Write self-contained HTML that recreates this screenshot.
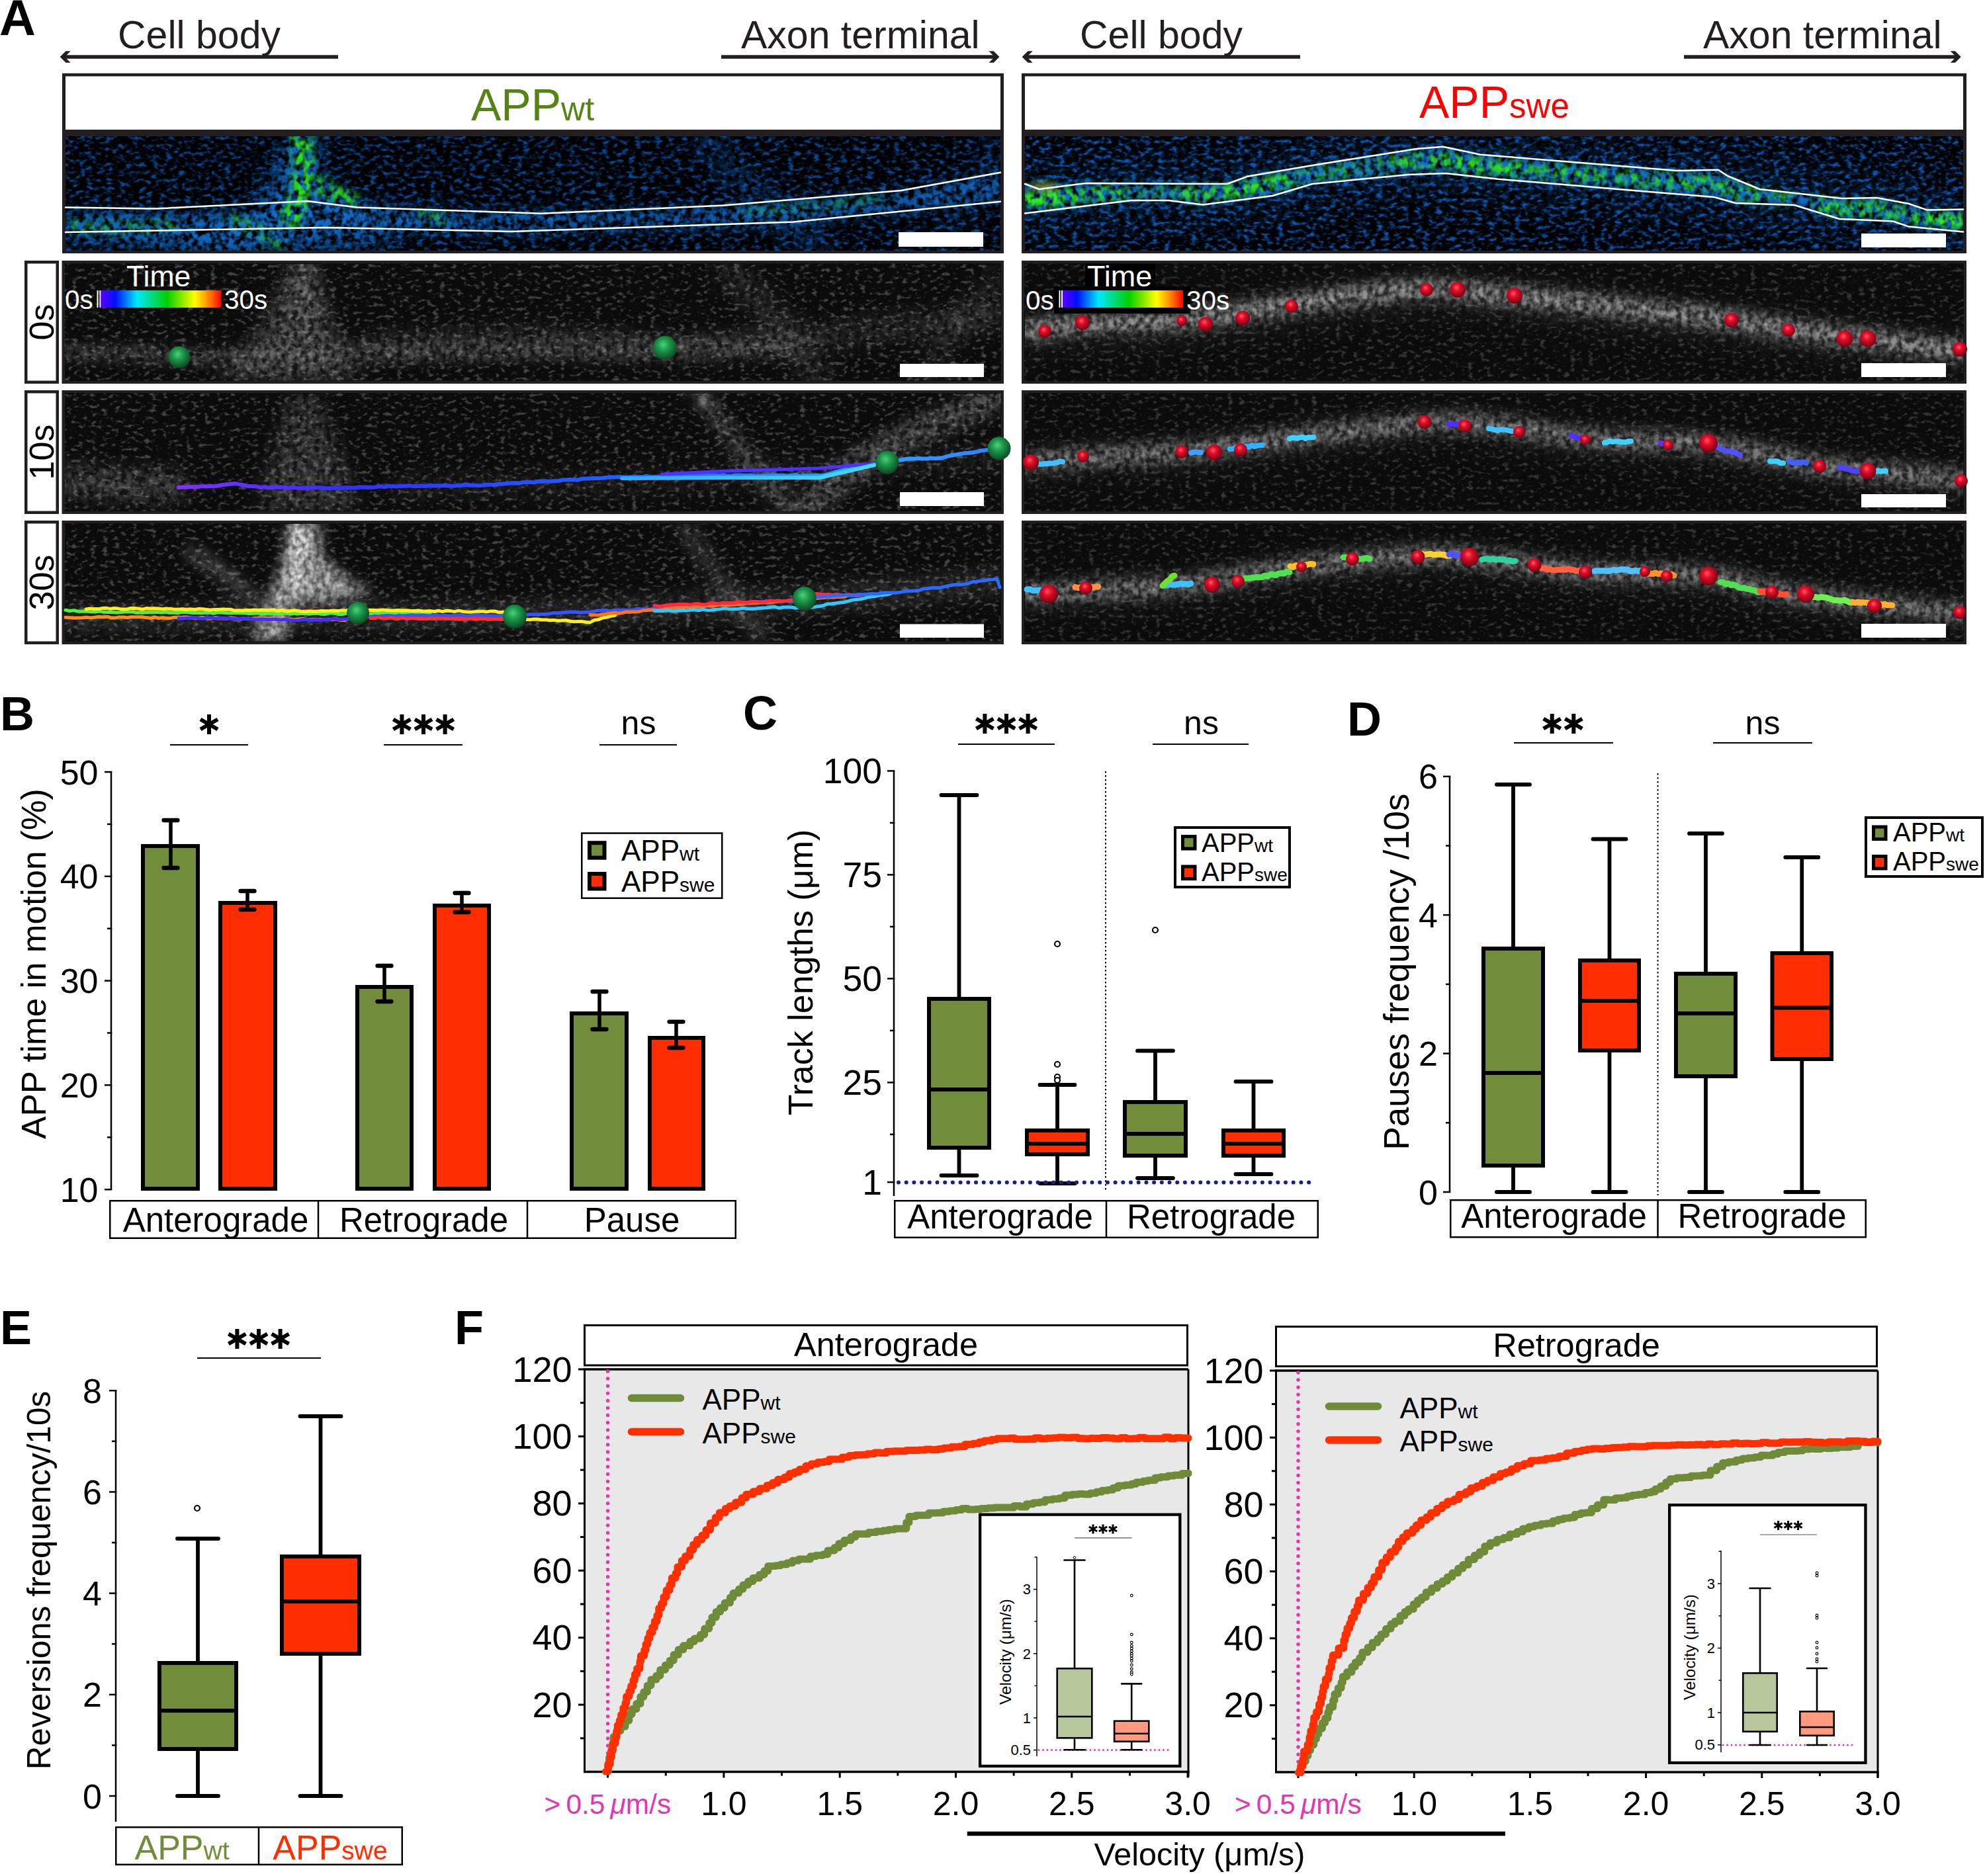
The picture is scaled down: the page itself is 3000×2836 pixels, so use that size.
<!DOCTYPE html>
<html><head><meta charset="utf-8"><title>Figure</title>
<style>html,body{margin:0;padding:0;background:#fff;} svg{display:block;} text{font-family:"Liberation Sans",sans-serif;}</style>
</head><body>
<svg width="3000" height="2836" viewBox="0 0 3000 2836" font-family="Liberation Sans, sans-serif">
<defs>
<filter id="gnoise" x="0" y="0" width="1" height="1" filterUnits="objectBoundingBox" color-interpolation-filters="sRGB">
  <feTurbulence type="fractalNoise" baseFrequency="0.11 0.17" numOctaves="2" seed="11"/>
  <feColorMatrix type="matrix" values="0 0 0 0 1  0 0 0 0 1  0 0 0 0 1  4.6 0 0 0 -2.5"/>
</filter>
<filter id="bnoise" x="0" y="0" width="1" height="1" filterUnits="objectBoundingBox" color-interpolation-filters="sRGB">
  <feTurbulence type="fractalNoise" baseFrequency="0.1 0.17" numOctaves="2" seed="5"/>
  <feColorMatrix type="matrix" values="0 0 0 0 0.06  0 0 0 0 0.33  0 0 0 0 0.68  3.4 0 0 0 -1.62"/>
</filter>
<filter id="blur6" filterUnits="userSpaceOnUse" x="-100" y="-100" width="3200" height="3100"><feGaussianBlur stdDeviation="6"/></filter>
<filter id="blur10" filterUnits="userSpaceOnUse" x="-100" y="-100" width="3200" height="3100"><feGaussianBlur stdDeviation="10"/></filter>
<filter id="blur16" filterUnits="userSpaceOnUse" x="-100" y="-100" width="3200" height="3100"><feGaussianBlur stdDeviation="16"/></filter>
<filter id="blur25" filterUnits="userSpaceOnUse" x="-100" y="-100" width="3200" height="3100"><feGaussianBlur stdDeviation="25"/></filter>
<radialGradient id="ballG" cx="0.45" cy="0.4" r="0.6" fx="0.42" fy="0.35">
  <stop offset="0" stop-color="#4fd07a"/><stop offset="0.4" stop-color="#1e9a4c"/><stop offset="1" stop-color="#0a4a22"/>
</radialGradient>
<radialGradient id="ballR" cx="0.45" cy="0.4" r="0.6" fx="0.42" fy="0.35">
  <stop offset="0" stop-color="#ff5a6a"/><stop offset="0.35" stop-color="#e3102a"/><stop offset="1" stop-color="#7a0010"/>
</radialGradient>
<linearGradient id="tbar" x1="0" x2="1" y1="0" y2="0">
  <stop offset="0" stop-color="#5a00ff"/><stop offset="0.12" stop-color="#0010ff"/><stop offset="0.3" stop-color="#00e8ff"/>
  <stop offset="0.55" stop-color="#00d000"/><stop offset="0.78" stop-color="#ffff00"/><stop offset="0.9" stop-color="#ff8000"/><stop offset="1" stop-color="#ff0000"/>
</linearGradient>
<clipPath id="clipL0"><rect x="99" y="206" width="1413" height="173"/></clipPath>
<clipPath id="clipR0"><rect x="1549" y="206" width="1418" height="173"/></clipPath>

<filter id="gn2" x="0" y="0" width="1" height="1" filterUnits="objectBoundingBox" color-interpolation-filters="sRGB">
  <feTurbulence type="fractalNoise" baseFrequency="0.12 0.1" numOctaves="2" seed="17"/>
  <feColorMatrix type="matrix" values="0 0 0 0 1  0 0 0 0 1  0 0 0 0 1  2.4 0 0 0 -0.7"/>
</filter>
<filter id="bn2" x="0" y="0" width="1" height="1" filterUnits="objectBoundingBox" color-interpolation-filters="sRGB">
  <feTurbulence type="fractalNoise" baseFrequency="0.11 0.09" numOctaves="2" seed="8"/>
  <feColorMatrix type="matrix" values="0 0 0 0 0.08  0 0 0 0 0.42  0 0 0 0 0.78  3.6 0 0 0 -1.3"/>
</filter>
<filter id="grn2" x="0" y="0" width="1" height="1" filterUnits="objectBoundingBox" color-interpolation-filters="sRGB">
  <feTurbulence type="fractalNoise" baseFrequency="0.1 0.08" numOctaves="2" seed="29"/>
  <feColorMatrix type="matrix" values="0 0 0 0 0.2  0 0 0 0 0.95  0 0 0 0 0.1  3.6 0 0 0 -1.35"/>
</filter>
<clipPath id="cbl"><rect x="99" y="206" width="1413" height="173"/></clipPath><mask id="mbl_1" maskUnits="userSpaceOnUse" x="99" y="206" width="1413" height="173"><rect x="99" y="206" width="1413" height="173" fill="#000"/><path d="M99.0,318.0 L300.0,322.0 L380.0,318.0 L420.0,300.0 L440.0,206.0 L475.0,206.0 L480.0,280.0 L545.0,305.0 L700.0,322.0 L1000.0,318.0 L1350.0,292.0 L1512.0,262.0 L1512.0,305.0 L1200.0,338.0 L800.0,352.0 L470.0,352.0 L360.0,379.0 L99.0,365.0 Z" fill="#fff" opacity="0.9" filter="url(#blur10)"/><path d="M240.0,379.0 L380.0,320.0 L440.0,206.0 L480.0,206.0 L490.0,290.0 L560.0,320.0 L600.0,379.0 Z" fill="#fff" opacity="0.8" filter="url(#blur16)"/><path d="M1063.0,206.0 C1077.5,221.7 1120.5,271.2 1150.0,300.0 C1179.5,328.8 1225.0,365.8 1240.0,379.0" fill="none" stroke="#fff" stroke-width="36" stroke-linecap="round" opacity="0.45" filter="url(#blur16)"/><path d="M1520.0,206.0 C1510.0,221.7 1476.7,271.2 1460.0,300.0 C1443.3,328.8 1426.7,365.8 1420.0,379.0" fill="none" stroke="#fff" stroke-width="30" stroke-linecap="round" opacity="0.3" filter="url(#blur16)"/></mask><mask id="mbl_2" maskUnits="userSpaceOnUse" x="99" y="206" width="1413" height="173"><rect x="99" y="206" width="1413" height="173" fill="#000"/><path d="M455.0,206.0 C455.5,213.3 458.5,234.3 458.0,250.0 C457.5,265.7 455.0,286.7 452.0,300.0 C449.0,313.3 442.0,325.0 440.0,330.0" fill="none" stroke="#fff" stroke-width="30" stroke-linecap="round" opacity="0.9" filter="url(#blur6)"/><path d="M480.0,280.0 C488.3,283.3 521.7,296.7 530.0,300.0" fill="none" stroke="#fff" stroke-width="22" stroke-linecap="round" opacity="0.8" filter="url(#blur6)"/><path d="M350.0,330.0 C356.7,333.3 378.3,343.3 390.0,350.0 C401.7,356.7 415.0,366.7 420.0,370.0" fill="none" stroke="#fff" stroke-width="20" stroke-linecap="round" opacity="0.5" filter="url(#blur6)"/><path d="M110.0,342.0 C121.7,342.5 155.0,345.3 180.0,345.0 C205.0,344.7 246.7,340.8 260.0,340.0" fill="none" stroke="#fff" stroke-width="16" stroke-linecap="round" opacity="0.5" filter="url(#blur6)"/><path d="M640.0,325.0 C645.0,325.8 665.0,329.2 670.0,330.0" fill="none" stroke="#fff" stroke-width="12" stroke-linecap="round" opacity="0.9" filter="url(#blur6)"/><path d="M1120.0,320.0 C1133.3,319.2 1165.0,318.3 1200.0,315.0 C1235.0,311.7 1308.3,302.5 1330.0,300.0" fill="none" stroke="#fff" stroke-width="10" stroke-linecap="round" opacity="0.4" filter="url(#blur6)"/></mask><clipPath id="cbr"><rect x="1549" y="206" width="1418" height="173"/></clipPath><mask id="mbr_1" maskUnits="userSpaceOnUse" x="1549" y="206" width="1418" height="173"><rect x="1549" y="206" width="1418" height="173" fill="#000"/><path d="M1549.0,278.0 L1570.5,286.0 L1641.0,277.0 L1854.6,278.0 L1885.0,266.8 L1983.6,249.9 L2140.8,224.9 L2181.0,221.7 L2237.5,233.7 L2361.0,243.8 L2534.5,258.0 L2597.0,256.7 L2611.0,266.0 L2659.5,286.0 L2784.0,300.0 L2836.7,299.0 L2885.0,308.0 L2913.0,317.6 L2967.0,316.4 L2967.0,350.6 L2885.0,342.6 L2861.0,334.5 L2780.0,331.0 L2712.0,310.0 L2623.0,307.0 L2591.0,298.0 L2421.7,284.0 L2264.5,270.8 L2185.0,262.0 L2128.7,264.0 L1983.6,278.0 L1923.0,296.0 L1818.0,309.5 L1766.0,303.0 L1709.6,303.0 L1549.0,322.4 Z" fill="#fff" opacity="1.0" filter="url(#blur6)"/><path d="M1549.0,300.2 C1555.7,300.3 1575.7,301.4 1589.0,300.6 C1602.3,299.8 1615.7,297.0 1629.0,295.6 C1642.3,294.3 1655.7,293.4 1669.0,292.5 C1682.3,291.6 1695.7,290.6 1709.0,290.2 C1722.3,289.8 1735.7,290.0 1749.0,290.3 C1762.3,290.5 1775.7,291.3 1789.0,291.8 C1802.3,292.2 1815.7,293.6 1829.0,293.0 C1842.3,292.3 1855.7,289.9 1869.0,287.8 C1882.3,285.7 1895.7,282.9 1909.0,280.2 C1922.3,277.6 1935.7,274.9 1949.0,272.1 C1962.3,269.2 1975.7,265.6 1989.0,263.3 C2002.3,260.9 2015.7,259.9 2029.0,258.1 C2042.3,256.4 2055.7,254.7 2069.0,253.0 C2082.3,251.3 2095.7,249.5 2109.0,247.9 C2122.3,246.4 2135.7,244.6 2149.0,243.8 C2162.3,242.9 2175.7,242.0 2189.0,242.9 C2202.3,243.9 2215.7,247.6 2229.0,249.4 C2242.3,251.2 2255.7,252.5 2269.0,253.7 C2282.3,255.0 2295.7,255.9 2309.0,257.0 C2322.3,258.1 2335.7,259.3 2349.0,260.4 C2362.3,261.5 2375.7,262.6 2389.0,263.7 C2402.3,264.8 2415.7,265.9 2429.0,267.0 C2442.3,268.1 2455.7,269.2 2469.0,270.3 C2482.3,271.4 2495.7,272.6 2509.0,273.6 C2522.3,274.5 2535.7,275.5 2549.0,276.1 C2562.3,276.7 2575.7,275.0 2589.0,277.4 C2602.3,279.7 2615.7,286.9 2629.0,290.3 C2642.3,293.7 2655.7,296.1 2669.0,297.8 C2682.3,299.5 2695.7,298.9 2709.0,300.7 C2722.3,302.6 2735.7,306.3 2749.0,308.7 C2762.3,311.2 2775.7,314.4 2789.0,315.6 C2802.3,316.9 2815.7,315.2 2829.0,316.1 C2842.3,317.0 2855.7,318.7 2869.0,321.1 C2882.3,323.5 2895.7,328.6 2909.0,330.6 C2922.3,332.5 2942.3,332.4 2949.0,332.8" fill="none" stroke="#fff" stroke-width="100" stroke-linecap="round" opacity="0.25" filter="url(#blur25)"/></mask><mask id="mbr_2" maskUnits="userSpaceOnUse" x="1549" y="206" width="1418" height="173"><rect x="1549" y="206" width="1418" height="173" fill="#000"/><path d="M1549.0,300.2 C1550.7,300.4 1555.7,301.0 1559.0,301.5 C1562.3,301.9 1565.7,302.6 1569.0,302.7 C1572.3,302.8 1575.7,302.2 1579.0,301.8 C1582.3,301.5 1585.7,301.0 1589.0,300.6 C1592.3,300.2 1595.7,299.8 1599.0,299.4 C1602.3,298.9 1607.3,298.3 1609.0,298.1" fill="none" stroke="#fff" stroke-width="22" stroke-linecap="round" opacity="1.0" filter="url(#blur6)"/><path d="M1610.0,298.0 C1611.7,297.8 1616.7,297.2 1620.0,296.8 C1623.3,296.3 1626.7,295.9 1630.0,295.5 C1633.3,295.1 1636.7,294.6 1640.0,294.3 C1643.3,294.0 1646.7,293.8 1650.0,293.6 C1653.3,293.4 1656.7,293.2 1660.0,293.0 C1663.3,292.8 1666.7,292.7 1670.0,292.5 C1673.3,292.3 1676.7,292.1 1680.0,291.9 C1683.3,291.7 1688.3,291.4 1690.0,291.3" fill="none" stroke="#fff" stroke-width="22" stroke-linecap="round" opacity="0.8" filter="url(#blur6)"/><path d="M1700.0,290.7 C1701.7,290.6 1706.7,290.3 1710.0,290.2 C1713.3,290.1 1716.7,290.2 1720.0,290.2 C1723.3,290.2 1726.7,290.2 1730.0,290.2 C1733.3,290.2 1736.7,290.2 1740.0,290.2 C1743.3,290.2 1746.7,290.2 1750.0,290.3 C1753.3,290.3 1756.7,290.2 1760.0,290.3 C1763.3,290.3 1768.3,290.5 1770.0,290.6" fill="none" stroke="#fff" stroke-width="22" stroke-linecap="round" opacity="0.35" filter="url(#blur6)"/><path d="M1790.0,291.8 C1791.7,292.0 1796.7,292.3 1800.0,292.5 C1803.3,292.7 1806.7,293.0 1810.0,293.1 C1813.3,293.3 1816.7,293.6 1820.0,293.5 C1823.3,293.5 1826.7,293.1 1830.0,292.9 C1833.3,292.7 1836.7,292.5 1840.0,292.3 C1843.3,292.1 1848.3,291.8 1850.0,291.7" fill="none" stroke="#fff" stroke-width="22" stroke-linecap="round" opacity="0.8" filter="url(#blur6)"/><path d="M1860.0,290.1 C1861.7,289.6 1866.7,288.4 1870.0,287.6 C1873.3,286.7 1876.7,285.8 1880.0,285.1 C1883.3,284.3 1886.7,283.7 1890.0,283.1 C1893.3,282.5 1896.7,282.1 1900.0,281.6 C1903.3,281.1 1906.7,280.6 1910.0,280.1 C1913.3,279.6 1916.7,279.2 1920.0,278.6 C1923.3,278.0 1926.7,277.2 1930.0,276.5 C1933.3,275.8 1938.3,274.6 1940.0,274.2" fill="none" stroke="#fff" stroke-width="22" stroke-linecap="round" opacity="0.9" filter="url(#blur6)"/><path d="M1950.0,271.8 C1951.7,271.4 1956.7,270.3 1960.0,269.5 C1963.3,268.7 1966.7,267.9 1970.0,267.1 C1973.3,266.4 1976.7,265.5 1980.0,264.8 C1983.3,264.1 1986.7,263.6 1990.0,263.1 C1993.3,262.6 1996.7,262.3 2000.0,261.9 C2003.3,261.4 2006.7,261.0 2010.0,260.6 C2013.3,260.2 2016.7,259.7 2020.0,259.3 C2023.3,258.9 2028.3,258.2 2030.0,258.0" fill="none" stroke="#fff" stroke-width="22" stroke-linecap="round" opacity="0.5" filter="url(#blur6)"/><path d="M2040.0,256.7 C2041.7,256.5 2046.7,255.9 2050.0,255.5 C2053.3,255.0 2056.7,254.6 2060.0,254.2 C2063.3,253.8 2066.7,253.3 2070.0,252.9 C2073.3,252.5 2076.7,252.1 2080.0,251.6 C2083.3,251.2 2088.3,250.6 2090.0,250.4" fill="none" stroke="#fff" stroke-width="22" stroke-linecap="round" opacity="0.35" filter="url(#blur6)"/><path d="M2100.0,249.1 C2101.7,248.9 2106.7,248.2 2110.0,247.8 C2113.3,247.4 2116.7,246.9 2120.0,246.5 C2123.3,246.1 2126.7,245.7 2130.0,245.3 C2133.3,244.9 2136.7,244.6 2140.0,244.3 C2143.3,244.0 2146.7,243.9 2150.0,243.7 C2153.3,243.5 2156.7,243.3 2160.0,243.1 C2163.3,242.9 2168.3,242.7 2170.0,242.6" fill="none" stroke="#fff" stroke-width="22" stroke-linecap="round" opacity="0.8" filter="url(#blur6)"/><path d="M2185.0,242.3 C2186.7,242.5 2191.7,243.4 2195.0,243.9 C2198.3,244.4 2201.7,245.0 2205.0,245.5 C2208.3,246.0 2211.7,246.6 2215.0,247.1 C2218.3,247.7 2221.7,248.2 2225.0,248.7 C2228.3,249.3 2231.7,249.9 2235.0,250.4 C2238.3,250.8 2241.7,251.1 2245.0,251.5 C2248.3,251.8 2251.7,252.1 2255.0,252.4 C2258.3,252.8 2261.7,253.1 2265.0,253.4 C2268.3,253.7 2271.7,253.9 2275.0,254.2 C2278.3,254.5 2281.7,254.8 2285.0,255.1 C2288.3,255.3 2293.3,255.7 2295.0,255.9" fill="none" stroke="#fff" stroke-width="22" stroke-linecap="round" opacity="0.9" filter="url(#blur6)"/><path d="M2310.0,257.1 C2311.7,257.3 2316.7,257.7 2320.0,258.0 C2323.3,258.2 2326.7,258.5 2330.0,258.8 C2333.3,259.1 2336.7,259.3 2340.0,259.6 C2343.3,259.9 2348.3,260.3 2350.0,260.4" fill="none" stroke="#fff" stroke-width="22" stroke-linecap="round" opacity="0.6" filter="url(#blur6)"/><path d="M2360.0,261.3 C2361.7,261.4 2366.7,261.8 2370.0,262.1 C2373.3,262.4 2376.7,262.7 2380.0,262.9 C2383.3,263.2 2386.7,263.5 2390.0,263.8 C2393.3,264.0 2396.7,264.3 2400.0,264.6 C2403.3,264.9 2406.7,265.1 2410.0,265.4 C2413.3,265.7 2418.3,266.1 2420.0,266.2" fill="none" stroke="#fff" stroke-width="22" stroke-linecap="round" opacity="0.7" filter="url(#blur6)"/><path d="M2450.0,268.7 C2451.7,268.8 2456.7,269.3 2460.0,269.5 C2463.3,269.8 2466.7,270.1 2470.0,270.4 C2473.3,270.6 2476.7,270.9 2480.0,271.2 C2483.3,271.5 2486.7,271.7 2490.0,272.0 C2493.3,272.3 2496.7,272.6 2500.0,272.8 C2503.3,273.1 2506.7,273.4 2510.0,273.6 C2513.3,273.9 2516.7,274.2 2520.0,274.5 C2523.3,274.7 2526.7,275.1 2530.0,275.3 C2533.3,275.5 2536.7,275.7 2540.0,275.8 C2543.3,276.0 2546.7,276.0 2550.0,276.1 C2553.3,276.2 2556.7,276.3 2560.0,276.5 C2563.3,276.6 2566.7,276.7 2570.0,276.8 C2573.3,276.9 2576.7,277.0 2580.0,277.1 C2583.3,277.2 2586.7,277.0 2590.0,277.4 C2593.3,277.8 2596.7,278.5 2600.0,279.6 C2603.3,280.8 2606.7,283.0 2610.0,284.3 C2613.3,285.7 2616.7,286.9 2620.0,287.9 C2623.3,289.0 2626.7,289.7 2630.0,290.5 C2633.3,291.3 2636.7,292.0 2640.0,292.8 C2643.3,293.5 2648.3,294.6 2650.0,295.0" fill="none" stroke="#fff" stroke-width="22" stroke-linecap="round" opacity="0.75" filter="url(#blur6)"/><path d="M2660.0,297.2 C2661.7,297.3 2666.7,297.6 2670.0,297.9 C2673.3,298.1 2676.7,298.4 2680.0,298.6 C2683.3,298.9 2686.7,299.1 2690.0,299.3 C2693.3,299.6 2698.3,300.0 2700.0,300.1" fill="none" stroke="#fff" stroke-width="22" stroke-linecap="round" opacity="0.5" filter="url(#blur6)"/><path d="M2750.0,309.0 C2751.7,309.3 2756.7,310.4 2760.0,311.1 C2763.3,311.8 2766.7,312.5 2770.0,313.2 C2773.3,313.9 2776.7,314.9 2780.0,315.3 C2783.3,315.7 2786.7,315.6 2790.0,315.7 C2793.3,315.7 2796.7,315.7 2800.0,315.8 C2803.3,315.8 2806.7,315.9 2810.0,315.9 C2813.3,315.9 2816.7,316.0 2820.0,316.0 C2823.3,316.1 2826.7,316.0 2830.0,316.1 C2833.3,316.2 2836.7,316.3 2840.0,316.6 C2843.3,316.9 2846.7,317.4 2850.0,317.8 C2853.3,318.1 2856.7,318.3 2860.0,318.9 C2863.3,319.5 2868.3,321.0 2870.0,321.4" fill="none" stroke="#fff" stroke-width="22" stroke-linecap="round" opacity="0.85" filter="url(#blur6)"/><path d="M2900.0,328.6 C2901.7,329.0 2906.7,330.3 2910.0,330.8 C2913.3,331.3 2916.7,331.5 2920.0,331.7 C2923.3,331.9 2926.7,332.0 2930.0,332.1 C2933.3,332.2 2936.7,332.4 2940.0,332.5 C2943.3,332.6 2946.7,332.7 2950.0,332.9 C2953.3,333.0 2958.3,333.2 2960.0,333.2" fill="none" stroke="#fff" stroke-width="22" stroke-linecap="round" opacity="1.0" filter="url(#blur6)"/></mask><clipPath id="cg1"><rect x="98" y="398.5" width="1414.5" height="177.0"/></clipPath><mask id="mg1_2" maskUnits="userSpaceOnUse" x="98" y="398.5" width="1414.5" height="177.0"><rect x="98" y="398.5" width="1414.5" height="177.0" fill="#000"/><path d="M440.0,399.0 L472.0,399.0 L490.0,470.0 L540.0,574.0 L330.0,574.0 L400.0,494.0 Z" fill="#fff" opacity="0.6" filter="url(#blur16)"/><path d="M457.0,399.0 C457.8,405.8 459.8,426.5 462.0,440.0 C464.2,453.5 468.7,473.3 470.0,480.0" fill="none" stroke="#fff" stroke-width="34" stroke-linecap="round" opacity="0.5" filter="url(#blur10)"/><path d="M99.0,532.0 C115.8,532.5 165.2,533.7 200.0,535.0 C234.8,536.3 258.0,540.0 308.0,540.0 C358.0,540.0 418.0,536.7 500.0,535.0 C582.0,533.3 716.7,531.3 800.0,530.0 C883.3,528.7 933.3,528.3 1000.0,527.0 C1066.7,525.7 1166.7,522.8 1200.0,522.0" fill="none" stroke="#fff" stroke-width="22" stroke-linecap="round" opacity="0.55" filter="url(#blur10)"/><path d="M561.0,523.0 C602.5,521.2 736.8,511.7 810.0,512.0 C883.2,512.3 943.3,523.7 1000.0,525.0 C1056.7,526.3 1091.7,525.0 1150.0,520.0 C1208.3,515.0 1289.7,502.0 1350.0,495.0 C1410.3,488.0 1485.0,480.8 1512.0,478.0" fill="none" stroke="#fff" stroke-width="30" stroke-linecap="round" opacity="0.4" filter="url(#blur16)"/><path d="M1100.0,410.0 C1111.7,421.7 1146.7,452.5 1170.0,480.0 C1193.3,507.5 1228.3,559.2 1240.0,575.0" fill="none" stroke="#fff" stroke-width="35" stroke-linecap="round" opacity="0.35" filter="url(#blur16)"/><path d="M1512.0,420.0 C1500.0,433.3 1458.7,474.2 1440.0,500.0 C1421.3,525.8 1406.7,562.5 1400.0,575.0" fill="none" stroke="#fff" stroke-width="35" stroke-linecap="round" opacity="0.25" filter="url(#blur16)"/></mask><mask id="mg1_3" maskUnits="userSpaceOnUse" x="98" y="398.5" width="1414.5" height="177.0"><rect x="98" y="398.5" width="1414.5" height="177.0" fill="#000"/><path d="M440.0,399.0 L472.0,399.0 L490.0,470.0 L540.0,574.0 L330.0,574.0 L400.0,494.0 Z" fill="#fff" opacity="0.6" filter="url(#blur16)"/><path d="M457.0,399.0 C457.8,405.8 459.8,426.5 462.0,440.0 C464.2,453.5 468.7,473.3 470.0,480.0" fill="none" stroke="#fff" stroke-width="34" stroke-linecap="round" opacity="0.5" filter="url(#blur10)"/><path d="M99.0,532.0 C115.8,532.5 165.2,533.7 200.0,535.0 C234.8,536.3 258.0,540.0 308.0,540.0 C358.0,540.0 418.0,536.7 500.0,535.0 C582.0,533.3 716.7,531.3 800.0,530.0 C883.3,528.7 933.3,528.3 1000.0,527.0 C1066.7,525.7 1166.7,522.8 1200.0,522.0" fill="none" stroke="#fff" stroke-width="22" stroke-linecap="round" opacity="0.55" filter="url(#blur10)"/><path d="M561.0,523.0 C602.5,521.2 736.8,511.7 810.0,512.0 C883.2,512.3 943.3,523.7 1000.0,525.0 C1056.7,526.3 1091.7,525.0 1150.0,520.0 C1208.3,515.0 1289.7,502.0 1350.0,495.0 C1410.3,488.0 1485.0,480.8 1512.0,478.0" fill="none" stroke="#fff" stroke-width="30" stroke-linecap="round" opacity="0.4" filter="url(#blur16)"/><path d="M1100.0,410.0 C1111.7,421.7 1146.7,452.5 1170.0,480.0 C1193.3,507.5 1228.3,559.2 1240.0,575.0" fill="none" stroke="#fff" stroke-width="35" stroke-linecap="round" opacity="0.35" filter="url(#blur16)"/><path d="M1512.0,420.0 C1500.0,433.3 1458.7,474.2 1440.0,500.0 C1421.3,525.8 1406.7,562.5 1400.0,575.0" fill="none" stroke="#fff" stroke-width="35" stroke-linecap="round" opacity="0.25" filter="url(#blur16)"/></mask><clipPath id="cg2"><rect x="98" y="594.5" width="1414.5" height="178.0"/></clipPath><mask id="mg2_2" maskUnits="userSpaceOnUse" x="98" y="594.5" width="1414.5" height="178.0"><rect x="98" y="594.5" width="1414.5" height="178.0" fill="#000"/><path d="M440.0,595.0 L478.0,595.0 L530.0,730.0 L545.0,773.0 L390.0,773.0 L400.0,730.0 Z" fill="#fff" opacity="0.45" filter="url(#blur16)"/><path d="M99.0,728.0 C112.5,728.7 152.5,730.8 180.0,732.0 C207.5,733.2 250.0,734.5 264.0,735.0" fill="none" stroke="#fff" stroke-width="40" stroke-linecap="round" opacity="0.6" filter="url(#blur16)"/><path d="M1058.0,596.0 C1068.3,610.0 1097.3,650.7 1120.0,680.0 C1142.7,709.3 1181.7,756.7 1194.0,772.0" fill="none" stroke="#fff" stroke-width="30" stroke-linecap="round" opacity="0.5" filter="url(#blur10)"/><path d="M1511.0,600.0 C1480.8,613.3 1379.0,651.3 1330.0,680.0 C1281.0,708.7 1235.8,756.7 1217.0,772.0" fill="none" stroke="#fff" stroke-width="40" stroke-linecap="round" opacity="0.6" filter="url(#blur10)"/><path d="M600.0,735.0 C650.0,734.2 800.0,733.3 900.0,730.0 C1000.0,726.7 1098.0,721.7 1200.0,715.0 C1302.0,708.3 1460.0,694.2 1512.0,690.0" fill="none" stroke="#fff" stroke-width="30" stroke-linecap="round" opacity="0.25" filter="url(#blur16)"/></mask><mask id="mg2_3" maskUnits="userSpaceOnUse" x="98" y="594.5" width="1414.5" height="178.0"><rect x="98" y="594.5" width="1414.5" height="178.0" fill="#000"/><path d="M440.0,595.0 L478.0,595.0 L530.0,730.0 L545.0,773.0 L390.0,773.0 L400.0,730.0 Z" fill="#fff" opacity="0.45" filter="url(#blur16)"/><path d="M99.0,728.0 C112.5,728.7 152.5,730.8 180.0,732.0 C207.5,733.2 250.0,734.5 264.0,735.0" fill="none" stroke="#fff" stroke-width="40" stroke-linecap="round" opacity="0.6" filter="url(#blur16)"/><path d="M1058.0,596.0 C1068.3,610.0 1097.3,650.7 1120.0,680.0 C1142.7,709.3 1181.7,756.7 1194.0,772.0" fill="none" stroke="#fff" stroke-width="30" stroke-linecap="round" opacity="0.5" filter="url(#blur10)"/><path d="M1511.0,600.0 C1480.8,613.3 1379.0,651.3 1330.0,680.0 C1281.0,708.7 1235.8,756.7 1217.0,772.0" fill="none" stroke="#fff" stroke-width="40" stroke-linecap="round" opacity="0.6" filter="url(#blur10)"/><path d="M600.0,735.0 C650.0,734.2 800.0,733.3 900.0,730.0 C1000.0,726.7 1098.0,721.7 1200.0,715.0 C1302.0,708.3 1460.0,694.2 1512.0,690.0" fill="none" stroke="#fff" stroke-width="30" stroke-linecap="round" opacity="0.25" filter="url(#blur16)"/></mask><linearGradient id="trk10" gradientUnits="userSpaceOnUse" x1="270" y1="0" x2="1512" y2="0"><stop offset="0" stop-color="#8030ff"/><stop offset="0.2" stop-color="#3030ff"/><stop offset="0.55" stop-color="#2060ff"/><stop offset="0.85" stop-color="#30a0ff"/><stop offset="1" stop-color="#3080ff"/></linearGradient><linearGradient id="trk10b" gradientUnits="userSpaceOnUse" x1="900" y1="0" x2="1350" y2="0"><stop offset="0" stop-color="#30a0ff"/><stop offset="1" stop-color="#40e0ff"/></linearGradient><clipPath id="cg3"><rect x="98" y="791.5" width="1414.5" height="178.0"/></clipPath><mask id="mg3_2" maskUnits="userSpaceOnUse" x="98" y="791.5" width="1414.5" height="178.0"><rect x="98" y="791.5" width="1414.5" height="178.0" fill="#000"/><path d="M437.0,792.0 L484.0,792.0 L484.0,840.0 L530.0,880.0 L565.0,898.0 L520.0,905.0 L440.0,915.0 L427.0,969.0 L381.0,969.0 L405.0,905.0 L421.0,870.0 L431.0,840.0 Z" fill="#fff" opacity="0.6" filter="url(#blur10)"/><path d="M455.0,795.0 C454.2,802.5 451.7,825.8 450.0,840.0 C448.3,854.2 445.8,873.3 445.0,880.0" fill="none" stroke="#fff" stroke-width="26" stroke-linecap="round" opacity="0.6" filter="url(#blur6)"/><path d="M290.0,836.0 C296.7,840.3 315.3,851.0 330.0,862.0 C344.7,873.0 370.0,895.3 378.0,902.0" fill="none" stroke="#fff" stroke-width="24" stroke-linecap="round" opacity="0.2" filter="url(#blur10)"/><path d="M1035.0,796.0 C1044.2,810.0 1071.0,852.8 1090.0,880.0 C1109.0,907.2 1139.2,945.8 1149.0,959.0" fill="none" stroke="#fff" stroke-width="30" stroke-linecap="round" opacity="0.12" filter="url(#blur10)"/><path d="M99.0,935.0 C165.8,934.5 366.5,933.7 500.0,932.0 C633.5,930.3 766.7,930.3 900.0,925.0 C1033.3,919.7 1198.0,907.8 1300.0,900.0 C1402.0,892.2 1476.7,881.7 1512.0,878.0" fill="none" stroke="#fff" stroke-width="30" stroke-linecap="round" opacity="0.15" filter="url(#blur16)"/></mask><mask id="mg3_3" maskUnits="userSpaceOnUse" x="98" y="791.5" width="1414.5" height="178.0"><rect x="98" y="791.5" width="1414.5" height="178.0" fill="#000"/><path d="M437.0,792.0 L484.0,792.0 L484.0,840.0 L530.0,880.0 L565.0,898.0 L520.0,905.0 L440.0,915.0 L427.0,969.0 L381.0,969.0 L405.0,905.0 L421.0,870.0 L431.0,840.0 Z" fill="#fff" opacity="0.6" filter="url(#blur10)"/><path d="M455.0,795.0 C454.2,802.5 451.7,825.8 450.0,840.0 C448.3,854.2 445.8,873.3 445.0,880.0" fill="none" stroke="#fff" stroke-width="26" stroke-linecap="round" opacity="0.6" filter="url(#blur6)"/><path d="M290.0,836.0 C296.7,840.3 315.3,851.0 330.0,862.0 C344.7,873.0 370.0,895.3 378.0,902.0" fill="none" stroke="#fff" stroke-width="24" stroke-linecap="round" opacity="0.2" filter="url(#blur10)"/><path d="M1035.0,796.0 C1044.2,810.0 1071.0,852.8 1090.0,880.0 C1109.0,907.2 1139.2,945.8 1149.0,959.0" fill="none" stroke="#fff" stroke-width="30" stroke-linecap="round" opacity="0.12" filter="url(#blur10)"/><path d="M99.0,935.0 C165.8,934.5 366.5,933.7 500.0,932.0 C633.5,930.3 766.7,930.3 900.0,925.0 C1033.3,919.7 1198.0,907.8 1300.0,900.0 C1402.0,892.2 1476.7,881.7 1512.0,878.0" fill="none" stroke="#fff" stroke-width="30" stroke-linecap="round" opacity="0.15" filter="url(#blur16)"/></mask><clipPath id="cr1"><rect x="1548.5" y="398.5" width="1419.0" height="178.0"/></clipPath><mask id="mr1_2" maskUnits="userSpaceOnUse" x="1548.5" y="398.5" width="1419.0" height="178.0"><rect x="1548.5" y="398.5" width="1419.0" height="178.0" fill="#000"/><path d="M1549.0,500.0 C1564.2,498.3 1599.2,492.8 1640.0,490.0 C1680.8,487.2 1743.2,487.8 1794.0,483.0 C1844.8,478.2 1900.8,467.2 1945.0,461.0 C1989.2,454.8 2024.3,450.0 2059.0,446.0 C2093.7,442.0 2121.2,437.3 2153.0,437.0 C2184.8,436.7 2202.3,439.5 2250.0,444.0 C2297.7,448.5 2379.2,457.5 2439.0,464.0 C2498.8,470.5 2565.0,477.3 2609.0,483.0 C2653.0,488.7 2668.3,493.2 2703.0,498.0 C2737.7,502.8 2772.8,506.5 2817.0,512.0 C2861.2,517.5 2942.8,527.8 2968.0,531.0" fill="none" stroke="#fff" stroke-width="24" stroke-linecap="round" opacity="1.0" filter="url(#blur10)"/><path d="M1549.0,508.0 C1564.2,506.3 1599.2,500.8 1640.0,498.0 C1680.8,495.2 1743.2,495.8 1794.0,491.0 C1844.8,486.2 1900.8,475.2 1945.0,469.0 C1989.2,462.8 2024.3,458.0 2059.0,454.0 C2093.7,450.0 2121.2,445.3 2153.0,445.0 C2184.8,444.7 2202.3,447.5 2250.0,452.0 C2297.7,456.5 2379.2,465.5 2439.0,472.0 C2498.8,478.5 2565.0,485.3 2609.0,491.0 C2653.0,496.7 2668.3,501.2 2703.0,506.0 C2737.7,510.8 2772.8,514.5 2817.0,520.0 C2861.2,525.5 2942.8,535.8 2968.0,539.0" fill="none" stroke="#fff" stroke-width="60" stroke-linecap="round" opacity="0.12" filter="url(#blur25)"/></mask><mask id="mr1_3" maskUnits="userSpaceOnUse" x="1548.5" y="398.5" width="1419.0" height="178.0"><rect x="1548.5" y="398.5" width="1419.0" height="178.0" fill="#000"/><path d="M1549.0,500.0 C1564.2,498.3 1599.2,492.8 1640.0,490.0 C1680.8,487.2 1743.2,487.8 1794.0,483.0 C1844.8,478.2 1900.8,467.2 1945.0,461.0 C1989.2,454.8 2024.3,450.0 2059.0,446.0 C2093.7,442.0 2121.2,437.3 2153.0,437.0 C2184.8,436.7 2202.3,439.5 2250.0,444.0 C2297.7,448.5 2379.2,457.5 2439.0,464.0 C2498.8,470.5 2565.0,477.3 2609.0,483.0 C2653.0,488.7 2668.3,493.2 2703.0,498.0 C2737.7,502.8 2772.8,506.5 2817.0,512.0 C2861.2,517.5 2942.8,527.8 2968.0,531.0" fill="none" stroke="#fff" stroke-width="24" stroke-linecap="round" opacity="1.0" filter="url(#blur10)"/><path d="M1549.0,508.0 C1564.2,506.3 1599.2,500.8 1640.0,498.0 C1680.8,495.2 1743.2,495.8 1794.0,491.0 C1844.8,486.2 1900.8,475.2 1945.0,469.0 C1989.2,462.8 2024.3,458.0 2059.0,454.0 C2093.7,450.0 2121.2,445.3 2153.0,445.0 C2184.8,444.7 2202.3,447.5 2250.0,452.0 C2297.7,456.5 2379.2,465.5 2439.0,472.0 C2498.8,478.5 2565.0,485.3 2609.0,491.0 C2653.0,496.7 2668.3,501.2 2703.0,506.0 C2737.7,510.8 2772.8,514.5 2817.0,520.0 C2861.2,525.5 2942.8,535.8 2968.0,539.0" fill="none" stroke="#fff" stroke-width="60" stroke-linecap="round" opacity="0.12" filter="url(#blur25)"/></mask><clipPath id="cr2"><rect x="1548.5" y="594.5" width="1419.0" height="178.0"/></clipPath><mask id="mr2_2" maskUnits="userSpaceOnUse" x="1548.5" y="594.5" width="1419.0" height="178.0"><rect x="1548.5" y="594.5" width="1419.0" height="178.0" fill="#000"/><path d="M1549.0,699.0 C1564.2,697.8 1599.2,694.8 1640.0,692.0 C1680.8,689.2 1740.0,687.2 1794.0,682.0 C1848.0,676.8 1904.2,668.0 1964.0,661.0 C2023.8,654.0 2105.3,643.2 2153.0,640.0 C2200.7,636.8 2208.7,638.2 2250.0,642.0 C2291.3,645.8 2345.7,658.0 2401.0,663.0 C2456.3,668.0 2525.3,665.5 2582.0,672.0 C2638.7,678.5 2700.7,695.3 2741.0,702.0 C2781.3,708.7 2786.2,708.2 2824.0,712.0 C2861.8,715.8 2944.0,722.8 2968.0,725.0" fill="none" stroke="#fff" stroke-width="24" stroke-linecap="round" opacity="0.9" filter="url(#blur10)"/><path d="M1549.0,707.0 C1564.2,705.8 1599.2,702.8 1640.0,700.0 C1680.8,697.2 1740.0,695.2 1794.0,690.0 C1848.0,684.8 1904.2,676.0 1964.0,669.0 C2023.8,662.0 2105.3,651.2 2153.0,648.0 C2200.7,644.8 2208.7,646.2 2250.0,650.0 C2291.3,653.8 2345.7,666.0 2401.0,671.0 C2456.3,676.0 2525.3,673.5 2582.0,680.0 C2638.7,686.5 2700.7,703.3 2741.0,710.0 C2781.3,716.7 2786.2,716.2 2824.0,720.0 C2861.8,723.8 2944.0,730.8 2968.0,733.0" fill="none" stroke="#fff" stroke-width="60" stroke-linecap="round" opacity="0.1" filter="url(#blur25)"/></mask><mask id="mr2_3" maskUnits="userSpaceOnUse" x="1548.5" y="594.5" width="1419.0" height="178.0"><rect x="1548.5" y="594.5" width="1419.0" height="178.0" fill="#000"/><path d="M1549.0,699.0 C1564.2,697.8 1599.2,694.8 1640.0,692.0 C1680.8,689.2 1740.0,687.2 1794.0,682.0 C1848.0,676.8 1904.2,668.0 1964.0,661.0 C2023.8,654.0 2105.3,643.2 2153.0,640.0 C2200.7,636.8 2208.7,638.2 2250.0,642.0 C2291.3,645.8 2345.7,658.0 2401.0,663.0 C2456.3,668.0 2525.3,665.5 2582.0,672.0 C2638.7,678.5 2700.7,695.3 2741.0,702.0 C2781.3,708.7 2786.2,708.2 2824.0,712.0 C2861.8,715.8 2944.0,722.8 2968.0,725.0" fill="none" stroke="#fff" stroke-width="24" stroke-linecap="round" opacity="0.9" filter="url(#blur10)"/><path d="M1549.0,707.0 C1564.2,705.8 1599.2,702.8 1640.0,700.0 C1680.8,697.2 1740.0,695.2 1794.0,690.0 C1848.0,684.8 1904.2,676.0 1964.0,669.0 C2023.8,662.0 2105.3,651.2 2153.0,648.0 C2200.7,644.8 2208.7,646.2 2250.0,650.0 C2291.3,653.8 2345.7,666.0 2401.0,671.0 C2456.3,676.0 2525.3,673.5 2582.0,680.0 C2638.7,686.5 2700.7,703.3 2741.0,710.0 C2781.3,716.7 2786.2,716.2 2824.0,720.0 C2861.8,723.8 2944.0,730.8 2968.0,733.0" fill="none" stroke="#fff" stroke-width="60" stroke-linecap="round" opacity="0.1" filter="url(#blur25)"/></mask><clipPath id="cr3"><rect x="1548.5" y="791.5" width="1419.0" height="177.0"/></clipPath><mask id="mr3_2" maskUnits="userSpaceOnUse" x="1548.5" y="791.5" width="1419.0" height="177.0"><rect x="1548.5" y="791.5" width="1419.0" height="177.0" fill="#000"/><path d="M1549.0,899.0 C1564.2,898.0 1599.2,895.5 1640.0,893.0 C1680.8,890.5 1740.0,890.0 1794.0,884.0 C1848.0,878.0 1904.2,864.3 1964.0,857.0 C2023.8,849.7 2105.3,841.8 2153.0,840.0 C2200.7,838.2 2208.7,841.8 2250.0,846.0 C2291.3,850.2 2345.7,860.8 2401.0,865.0 C2456.3,869.2 2537.8,866.7 2582.0,871.0 C2626.2,875.3 2623.7,883.8 2666.0,891.0 C2708.3,898.2 2785.7,908.0 2836.0,914.0 C2886.3,920.0 2946.0,924.8 2968.0,927.0" fill="none" stroke="#fff" stroke-width="24" stroke-linecap="round" opacity="0.9" filter="url(#blur10)"/><path d="M1549.0,907.0 C1564.2,906.0 1599.2,903.5 1640.0,901.0 C1680.8,898.5 1740.0,898.0 1794.0,892.0 C1848.0,886.0 1904.2,872.3 1964.0,865.0 C2023.8,857.7 2105.3,849.8 2153.0,848.0 C2200.7,846.2 2208.7,849.8 2250.0,854.0 C2291.3,858.2 2345.7,868.8 2401.0,873.0 C2456.3,877.2 2537.8,874.7 2582.0,879.0 C2626.2,883.3 2623.7,891.8 2666.0,899.0 C2708.3,906.2 2785.7,916.0 2836.0,922.0 C2886.3,928.0 2946.0,932.8 2968.0,935.0" fill="none" stroke="#fff" stroke-width="60" stroke-linecap="round" opacity="0.1" filter="url(#blur25)"/></mask><mask id="mr3_3" maskUnits="userSpaceOnUse" x="1548.5" y="791.5" width="1419.0" height="177.0"><rect x="1548.5" y="791.5" width="1419.0" height="177.0" fill="#000"/><path d="M1549.0,899.0 C1564.2,898.0 1599.2,895.5 1640.0,893.0 C1680.8,890.5 1740.0,890.0 1794.0,884.0 C1848.0,878.0 1904.2,864.3 1964.0,857.0 C2023.8,849.7 2105.3,841.8 2153.0,840.0 C2200.7,838.2 2208.7,841.8 2250.0,846.0 C2291.3,850.2 2345.7,860.8 2401.0,865.0 C2456.3,869.2 2537.8,866.7 2582.0,871.0 C2626.2,875.3 2623.7,883.8 2666.0,891.0 C2708.3,898.2 2785.7,908.0 2836.0,914.0 C2886.3,920.0 2946.0,924.8 2968.0,927.0" fill="none" stroke="#fff" stroke-width="24" stroke-linecap="round" opacity="0.9" filter="url(#blur10)"/><path d="M1549.0,907.0 C1564.2,906.0 1599.2,903.5 1640.0,901.0 C1680.8,898.5 1740.0,898.0 1794.0,892.0 C1848.0,886.0 1904.2,872.3 1964.0,865.0 C2023.8,857.7 2105.3,849.8 2153.0,848.0 C2200.7,846.2 2208.7,849.8 2250.0,854.0 C2291.3,858.2 2345.7,868.8 2401.0,873.0 C2456.3,877.2 2537.8,874.7 2582.0,879.0 C2626.2,883.3 2623.7,891.8 2666.0,899.0 C2708.3,906.2 2785.7,916.0 2836.0,922.0 C2886.3,928.0 2946.0,932.8 2968.0,935.0" fill="none" stroke="#fff" stroke-width="60" stroke-linecap="round" opacity="0.1" filter="url(#blur25)"/></mask></defs>
<rect x="0" y="0" width="3000" height="2836" fill="#fff"/>
<text x="-1" y="52.5" font-size="76" text-anchor="start" fill="#000" font-weight="bold" >A</text>
<text x="178" y="73" font-size="59" text-anchor="start" fill="#231f20" >Cell body</text>
<text x="1120" y="73" font-size="59" text-anchor="start" fill="#231f20" >Axon terminal</text>
<line x1="94.2" y1="86" x2="511" y2="86" stroke="#231f20" stroke-width="5.3" stroke-linecap="butt" />
<path d="M106.7,77.15 L99.5,77.15 L90.7,86 L99.5,94.85 L106.7,94.85 L97.9,86 Z" fill="#231f20"/>
<line x1="1090" y1="86" x2="1507.0" y2="86" stroke="#231f20" stroke-width="5.3" stroke-linecap="butt" />
<path d="M1494.5,77.15 L1501.7,77.15 L1510.5,86 L1501.7,94.85 L1494.5,94.85 L1503.3,86 Z" fill="#231f20"/>
<text x="1632" y="73" font-size="59" text-anchor="start" fill="#231f20" >Cell body</text>
<text x="2574" y="73" font-size="59" text-anchor="start" fill="#231f20" >Axon terminal</text>
<line x1="1548.2" y1="86" x2="1965" y2="86" stroke="#231f20" stroke-width="5.3" stroke-linecap="butt" />
<path d="M1560.7,77.15 L1553.5,77.15 L1544.7,86 L1553.5,94.85 L1560.7,94.85 L1551.9,86 Z" fill="#231f20"/>
<line x1="2545" y1="86" x2="2960.2" y2="86" stroke="#231f20" stroke-width="5.3" stroke-linecap="butt" />
<path d="M2947.7,77.15 L2954.8999999999996,77.15 L2963.7,86 L2954.8999999999996,94.85 L2947.7,94.85 L2956.5,86 Z" fill="#231f20"/>
<rect x="94" y="110.8" width="1423" height="272.2" fill="#231f20" stroke="none" stroke-width="0" />
<rect x="99" y="115.4" width="1413" height="80.6" fill="#fff" stroke="none" stroke-width="0" />
<rect x="99" y="206" width="1413" height="173" fill="#000" stroke="none" stroke-width="0" />
<rect x="1544" y="110.8" width="1428" height="272.2" fill="#231f20" stroke="none" stroke-width="0" />
<rect x="1549" y="115.4" width="1418" height="80.6" fill="#fff" stroke="none" stroke-width="0" />
<rect x="1549" y="206" width="1418" height="173" fill="#000" stroke="none" stroke-width="0" />
<text x="712" y="181.5" font-size="68" text-anchor="start" fill="#568316" >APP<tspan font-size="50">wt</tspan></text>
<text x="2145" y="177.5" font-size="68" text-anchor="start" fill="#ff0000" >APP<tspan font-size="51">swe</tspan></text>
<rect x="37" y="394" width="52" height="186" fill="#231f20" stroke="none" stroke-width="0" />
<rect x="41.5" y="398.5" width="43" height="177" fill="#fff" stroke="none" stroke-width="0" />
<text x="0" y="0" font-size="52" text-anchor="middle" fill="#000" transform="translate(81,487.0) rotate(-90)">0s</text>
<rect x="93.5" y="394" width="1423.5" height="186" fill="#231f20" stroke="none" stroke-width="0" />
<rect x="98.0" y="398.5" width="1414.5" height="177" fill="#000" stroke="none" stroke-width="0" />
<rect x="1544" y="394" width="1428" height="186" fill="#231f20" stroke="none" stroke-width="0" />
<rect x="1548.5" y="398.5" width="1419" height="177" fill="#000" stroke="none" stroke-width="0" />
<rect x="37" y="590" width="52" height="187" fill="#231f20" stroke="none" stroke-width="0" />
<rect x="41.5" y="594.5" width="43" height="178" fill="#fff" stroke="none" stroke-width="0" />
<text x="0" y="0" font-size="52" text-anchor="middle" fill="#000" transform="translate(81,683.5) rotate(-90)">10s</text>
<rect x="93.5" y="590" width="1423.5" height="187" fill="#231f20" stroke="none" stroke-width="0" />
<rect x="98.0" y="594.5" width="1414.5" height="178" fill="#000" stroke="none" stroke-width="0" />
<rect x="1544" y="590" width="1428" height="187" fill="#231f20" stroke="none" stroke-width="0" />
<rect x="1548.5" y="594.5" width="1419" height="178" fill="#000" stroke="none" stroke-width="0" />
<rect x="37" y="787" width="52" height="187" fill="#231f20" stroke="none" stroke-width="0" />
<rect x="41.5" y="791.5" width="43" height="178" fill="#fff" stroke="none" stroke-width="0" />
<text x="0" y="0" font-size="52" text-anchor="middle" fill="#000" transform="translate(81,880.5) rotate(-90)">30s</text>
<rect x="93.5" y="787" width="1423.5" height="187" fill="#231f20" stroke="none" stroke-width="0" />
<rect x="98.0" y="791.5" width="1414.5" height="178" fill="#000" stroke="none" stroke-width="0" />
<rect x="1544" y="787" width="1428" height="187" fill="#231f20" stroke="none" stroke-width="0" />
<rect x="1548.5" y="791.5" width="1419" height="178" fill="#000" stroke="none" stroke-width="0" />
<g clip-path="url(#cbl)">
<rect x="99" y="206" width="1413" height="173" fill="#000"/>
<g><rect x="99" y="206" width="1413" height="173" fill="#fff" opacity="0.85" filter="url(#bnoise)"/></g>
<g mask="url(#mbl_1)"><rect x="99" y="206" width="1413" height="173" fill="#fff" opacity="1" filter="url(#bn2)"/></g>
<g mask="url(#mbl_2)"><rect x="99" y="206" width="1413" height="173" fill="#fff" opacity="1" filter="url(#grn2)"/></g>
</g>
<polyline points="99.0,313.6 234.0,315.5 465.0,304.0 540.0,313.6 700.0,318.7 818.0,322.8 1094.0,310.6 1362.0,288.0 1512.0,260.7" fill="none" stroke="#ffffff" stroke-width="2.5" stroke-linejoin="round" stroke-linecap="round" />
<polyline points="99.0,351.0 491.0,344.0 772.5,350.0 1198.7,335.5 1512.0,304.7" fill="none" stroke="#ffffff" stroke-width="2.5" stroke-linejoin="round" stroke-linecap="round" />
<rect x="1358" y="351" width="128" height="22" fill="#fff" stroke="none" stroke-width="0" />
<g clip-path="url(#cbr)">
<rect x="1549" y="206" width="1418" height="173" fill="#000"/>
<g><rect x="1549" y="206" width="1418" height="173" fill="#fff" opacity="1" filter="url(#bnoise)"/></g>
<g mask="url(#mbr_1)"><rect x="1549" y="206" width="1418" height="173" fill="#fff" opacity="1" filter="url(#bn2)"/></g>
<g mask="url(#mbr_2)"><rect x="1549" y="206" width="1418" height="173" fill="#fff" opacity="1" filter="url(#grn2)"/></g>
</g>
<ellipse cx="1578" cy="283" rx="22" ry="7" fill="#e0ff30" opacity="0.5" filter="url(#blur6)"/>
<polyline points="1549.0,278.0 1570.5,286.0 1641.0,277.0 1854.6,278.0 1885.0,266.8 1983.6,249.9 2140.8,224.9 2181.0,221.7 2237.5,233.7 2361.0,243.8 2534.5,258.0 2597.0,256.7 2611.0,266.0 2659.5,286.0 2784.0,300.0 2836.7,299.0 2885.0,308.0 2913.0,317.6 2967.0,316.4" fill="none" stroke="#ffffff" stroke-width="2.5" stroke-linejoin="round" stroke-linecap="round" />
<polyline points="1549.0,322.4 1709.6,303.0 1766.0,303.0 1818.0,309.5 1923.0,296.0 1983.6,278.0 2128.7,264.0 2185.0,262.0 2264.5,270.8 2421.7,284.0 2591.0,298.0 2623.0,307.0 2712.0,310.0 2780.0,331.0 2861.0,334.5 2885.0,342.6 2967.0,350.6" fill="none" stroke="#ffffff" stroke-width="2.5" stroke-linejoin="round" stroke-linecap="round" />
<rect x="2813" y="353" width="128" height="21" fill="#fff" stroke="none" stroke-width="0" />
<g clip-path="url(#cg1)">
<rect x="98" y="398.5" width="1414.5" height="177.0" fill="#000"/>
<g><rect x="98" y="398.5" width="1414.5" height="177.0" fill="#fff" opacity="0.045"/></g>
<g><rect x="98" y="398.5" width="1414.5" height="177.0" fill="#fff" opacity="0.2304" filter="url(#gnoise)"/></g>
<g mask="url(#mg1_2)"><rect x="98" y="398.5" width="1414.5" height="177.0" fill="#fff" opacity="0.45" filter="url(#gn2)"/></g>
<g mask="url(#mg1_3)"><rect x="98" y="398.5" width="1414.5" height="177.0" fill="#fff" opacity="0.08"/></g>
</g>
<circle cx="271" cy="540" r="16.5" fill="url(#ballG)"/>
<circle cx="1005" cy="526" r="18" fill="url(#ballG)"/>
<rect x="1360" y="550" width="127" height="20" fill="#fff" stroke="none" stroke-width="0" />
<text x="191" y="433" font-size="44.5" text-anchor="start" fill="#fff" >Time</text>
<text x="98" y="467" font-size="40.5" text-anchor="start" fill="#fff" >0s</text>
<rect x="146.5" y="439" width="2" height="26" fill="#fff" stroke="none" stroke-width="0" />
<rect x="150.5" y="439" width="2" height="26" fill="#fff" stroke="none" stroke-width="0" />
<rect x="152.5" y="439" width="182" height="26" fill="url(#tbar)" stroke="none" stroke-width="0" />
<text x="339" y="467" font-size="40.5" text-anchor="start" fill="#fff" >30s</text>
<g clip-path="url(#cg2)">
<rect x="98" y="594.5" width="1414.5" height="178.0" fill="#000"/>
<g><rect x="98" y="594.5" width="1414.5" height="178.0" fill="#fff" opacity="0.045"/></g>
<g><rect x="98" y="594.5" width="1414.5" height="178.0" fill="#fff" opacity="0.2304" filter="url(#gnoise)"/></g>
<g mask="url(#mg2_2)"><rect x="98" y="594.5" width="1414.5" height="178.0" fill="#fff" opacity="0.45" filter="url(#gn2)"/></g>
<g mask="url(#mg2_3)"><rect x="98" y="594.5" width="1414.5" height="178.0" fill="#fff" opacity="0.08"/></g>
</g>
<circle cx="1063" cy="606" r="7" fill="#fff" opacity="0.5" filter="url(#blur6)"/>
<polyline points="270.0,736.7 276.0,736.2 282.0,736.8 288.0,735.7 294.0,736.3 300.0,735.8 306.0,735.1 312.0,735.6 318.0,734.7 324.0,735.1 330.0,734.3 336.7,733.0 343.3,732.2 350.0,731.5 356.2,731.1 362.5,732.1 368.8,733.5 375.0,734.7 381.2,734.9 387.5,735.3 393.8,737.0 400.0,736.3 406.2,737.6 412.5,736.8 418.8,736.6 425.0,736.6 431.2,737.0 437.5,737.9 443.8,736.9 450.0,737.6 456.2,737.8 462.5,737.4 468.8,737.8 475.0,737.1 481.2,737.1 487.5,737.4 493.8,738.2 500.0,737.9 506.2,737.5 512.5,737.8 518.8,737.4 525.0,736.9 531.2,737.5 537.5,737.2 543.8,736.3 550.0,736.6 556.2,736.4 562.5,736.7 568.8,736.3 575.0,735.4 581.2,736.3 587.5,734.8 593.8,735.1 600.0,735.4 606.1,734.4 612.3,734.8 618.4,734.0 624.5,734.9 630.7,735.0 636.8,734.6 642.9,735.0 649.0,734.0 655.2,734.5 661.3,734.3 667.4,734.2 673.6,733.9 679.7,734.4 685.8,734.5 692.0,733.7 698.1,733.9 704.2,732.8 710.3,733.8 716.5,733.6 722.6,734.0 728.7,733.7 734.9,732.7 741.0,732.8 747.1,732.9 753.1,731.5 759.2,731.8 765.2,730.9 771.3,730.4 777.3,730.0 783.4,730.7 789.4,729.3 795.5,729.1 801.6,728.9 807.6,729.3 813.7,727.7 819.7,727.9 825.8,727.6 831.8,727.8 837.9,727.3 843.9,727.0 850.0,725.6 856.0,725.5 862.0,725.1 868.0,725.6 874.0,725.4 880.0,723.8 886.0,723.5 892.0,723.2 898.0,722.9 904.0,723.0 910.0,722.8 916.0,722.0 922.0,721.2 928.0,721.5 934.0,721.1 940.0,721.1 946.2,721.6 952.3,721.2 958.5,720.8 964.6,720.9 970.8,720.9 976.9,719.8 983.1,721.1 989.2,720.8 995.4,720.9 1001.5,720.7 1007.7,720.0 1013.8,719.9 1020.0,719.4 1026.2,720.1 1032.3,719.1 1038.5,719.1 1044.6,719.2 1050.8,719.1 1056.9,719.3 1063.1,718.7 1069.2,718.6 1075.4,718.7 1081.5,718.6 1087.7,718.9 1093.8,718.3 1100.0,719.6 1106.0,719.2 1112.1,718.4 1118.1,718.6 1124.2,718.8 1130.2,718.8 1136.3,718.4 1142.3,719.6 1148.3,719.8 1154.4,718.9 1160.4,719.0 1166.5,718.3 1172.5,718.4 1178.6,718.7 1184.6,718.6 1190.7,719.5 1196.7,718.5 1202.7,718.2 1208.8,719.7 1214.8,719.0 1220.9,718.4 1226.9,719.1 1233.0,718.2 1239.0,719.0 1245.3,718.4 1251.6,716.8 1257.9,715.2 1264.2,713.1 1270.5,711.9 1276.8,710.2 1283.2,709.7 1289.5,708.0 1295.8,707.0 1302.1,704.9 1308.4,703.3 1314.7,702.9 1321.0,701.8 1327.0,700.8 1333.0,699.9 1339.0,699.2 1345.0,698.3 1351.0,696.7 1357.0,696.4 1363.0,695.3 1369.0,694.0 1375.0,693.2 1381.4,693.4 1387.9,693.0 1394.3,693.5 1400.7,693.6 1407.1,692.5 1413.6,693.0 1420.0,692.8 1426.3,691.7 1432.6,689.6 1438.9,688.3 1445.2,687.3 1451.5,686.1 1457.8,685.1 1464.2,684.7 1470.5,684.0 1476.8,682.9 1483.1,681.2 1489.4,680.4 1495.7,679.6 1502.0,678.0" fill="none" stroke="url(#trk10)" stroke-width="6" stroke-linejoin="round" stroke-linecap="round" />
<polyline points="1000.0,717.0 1100.0,712.0 1239.0,708.0 1321.0,701.0" fill="none" stroke="#5030ff" stroke-width="5" stroke-linejoin="round" stroke-linecap="round" />
<polyline points="940.0,723.0 1100.0,722.0 1239.0,722.0 1321.0,703.0" fill="none" stroke="url(#trk10b)" stroke-width="6" stroke-linejoin="round" stroke-linecap="round" />
<circle cx="1341" cy="699" r="17.5" fill="url(#ballG)"/>
<circle cx="1510" cy="678" r="17.5" fill="url(#ballG)"/>
<rect x="1360" y="744" width="127" height="21" fill="#fff" stroke="none" stroke-width="0" />
<g clip-path="url(#cg3)">
<rect x="98" y="791.5" width="1414.5" height="178.0" fill="#000"/>
<g><rect x="98" y="791.5" width="1414.5" height="178.0" fill="#fff" opacity="0.045"/></g>
<g><rect x="98" y="791.5" width="1414.5" height="178.0" fill="#fff" opacity="0.2304" filter="url(#gnoise)"/></g>
<g mask="url(#mg3_2)"><rect x="98" y="791.5" width="1414.5" height="178.0" fill="#fff" opacity="1.0" filter="url(#gn2)"/></g>
<g mask="url(#mg3_3)"><rect x="98" y="791.5" width="1414.5" height="178.0" fill="#fff" opacity="0.5"/></g>
</g>
<polyline points="99.0,933.3 105.4,933.8 111.8,934.3 118.1,934.0 124.5,934.0 130.9,933.2 137.2,933.9 143.6,933.2 150.0,932.2 156.0,933.0 162.0,932.2 168.0,934.0 174.0,934.1 180.0,932.9 186.0,932.9 192.0,933.8 198.0,932.7 204.0,932.7 210.0,932.8 216.0,933.1 222.0,933.7 228.0,934.4 234.0,933.0 240.0,934.5 246.0,933.8 252.0,934.5 258.0,934.4 264.0,933.1 270.0,934.1 276.0,933.1 282.0,932.9 288.0,933.7 294.0,934.5 300.0,934.1 306.1,933.5 312.1,934.8 318.2,935.0 324.3,933.8 330.4,934.3 336.4,934.7 342.5,935.3 348.6,933.8 354.6,934.8 360.7,935.7 366.8,935.0 372.9,935.3 378.9,935.5 385.0,935.0 391.1,934.7 397.1,935.3 403.2,935.3 409.3,935.0 415.4,936.1 421.4,935.2 427.5,935.5 433.6,936.1 439.6,936.3 445.7,936.5 451.8,936.1 457.9,935.4 463.9,936.6 470.0,936.8 476.2,936.6 482.5,936.8 488.8,936.4 495.0,936.5 501.2,936.8 507.5,936.0 513.8,937.2 520.0,937.7 527.0,935.3 534.0,935.5 541.0,934.0" fill="none" stroke="#ff8c1a" stroke-width="5" stroke-linejoin="round" stroke-linecap="round" />
<polyline points="200.0,921.2 206.2,920.4 212.4,922.0 218.6,922.0 224.8,921.1 231.0,921.6 237.1,920.7 243.3,920.8 249.5,921.0 255.7,921.8 261.9,920.9 268.1,922.5 274.3,920.7 280.5,921.0 286.7,920.8 292.9,922.3 299.0,921.5 305.2,921.8 311.4,921.5 317.6,922.2 323.8,921.8 330.0,921.4 336.2,922.0 342.5,921.9 348.8,921.6 355.0,923.1 361.2,923.0 367.5,923.1 373.8,923.6 380.0,922.8 386.2,922.9 392.5,923.1 398.8,923.2 405.0,923.8 411.2,922.6 417.5,923.7 423.8,923.9 430.0,923.7 436.2,923.1 442.3,924.5 448.5,923.2 454.7,924.4 460.8,923.6 467.0,923.4 473.2,923.8 479.3,923.6 485.5,923.8 491.7,924.9 497.8,925.1 504.0,924.4 510.2,925.0 516.3,924.7 522.5,924.8 528.7,925.6 534.8,924.6 541.0,925.7 547.1,925.9 553.2,926.4 559.2,925.6 565.3,926.3 571.4,926.8 577.5,927.9 583.5,929.7 589.6,930.1 595.7,930.5 601.8,929.6 607.8,931.3 613.9,932.0 620.0,932.6 626.2,932.7 632.3,931.6 638.5,931.8 644.6,933.2 650.8,933.2 656.9,933.7 663.1,933.0 669.2,934.0 675.4,932.7 681.5,934.5 687.7,934.5 693.8,933.5 700.0,933.1 706.3,934.0 712.7,934.2 719.0,933.5 725.3,932.8 731.7,933.1 738.0,934.1 744.3,932.6 750.7,934.2 757.0,932.8 763.3,932.6 769.7,932.3 776.0,933.0" fill="none" stroke="#ff2a2a" stroke-width="5" stroke-linejoin="round" stroke-linecap="round" />
<polyline points="99.0,922.3 105.4,923.5 111.8,922.8 118.1,924.2 124.5,924.2 130.9,924.0 137.2,924.7 143.6,924.9 150.0,924.1 156.2,925.1 162.5,925.4 168.8,925.2 175.0,926.0 181.2,925.8 187.5,925.1 193.8,924.9 200.0,924.8 206.2,926.2 212.5,926.0 218.8,925.9 225.0,925.6 231.2,925.8 237.5,925.3 243.8,926.0 250.0,925.3 256.0,926.3 262.1,926.3 268.1,926.4 274.1,925.6 280.2,925.3 286.2,925.9 292.2,926.6 298.2,926.3 304.3,926.8 310.3,926.2 316.3,926.1 322.4,927.2 328.4,925.7 334.4,925.9 340.5,926.6 346.5,926.8 352.5,926.4 358.6,926.7 364.6,926.5 370.6,927.0 376.7,927.4 382.7,927.3 388.7,927.0 394.8,926.7 400.8,927.7 406.8,926.7 412.8,927.1 418.9,927.6 424.9,927.3 430.9,926.7 437.0,927.5 443.0,927.2 449.1,927.9 455.2,927.4 461.4,927.3 467.5,928.2 473.6,927.4 479.8,927.2 485.9,928.3 492.0,928.4 498.1,926.9 504.2,926.8 510.4,928.4 516.5,928.5 522.6,927.6 528.8,927.4 534.9,928.3 541.0,928.9 547.1,927.4 553.1,927.8 559.2,928.2 565.2,927.2 571.3,927.6 577.3,927.0 583.4,927.6 589.4,927.0 595.5,926.7 601.6,927.2 607.6,926.7 613.7,926.6 619.7,926.6 625.8,927.1 631.8,926.8 637.9,927.6 643.9,926.9 650.0,927.0" fill="none" stroke="#50f040" stroke-width="5" stroke-linejoin="round" stroke-linecap="round" />
<polyline points="130.0,921.0 136.1,919.9 142.1,920.5 148.2,920.6 154.3,919.6 160.4,919.3 166.4,920.4 172.5,919.5 178.6,920.1 184.6,921.1 190.7,921.1 196.8,919.6 202.9,919.6 208.9,919.9 215.0,921.2 221.1,919.6 227.1,920.0 233.2,919.8 239.3,919.9 245.4,920.7 251.4,920.1 257.5,920.6 263.6,921.3 269.6,921.3 275.7,920.7 281.8,921.5 287.9,921.1 293.9,921.6 300.0,920.5 306.0,920.8 312.0,921.4 318.0,922.2 324.0,921.6 330.0,921.4 336.0,921.1 342.0,921.3 348.0,921.2 354.0,922.9 360.0,922.8 366.0,922.9 372.0,922.3 378.0,922.7 384.0,922.0 390.0,922.5 396.0,921.9 402.0,922.5 408.0,922.3 414.0,922.1 420.0,923.8 426.0,922.3 432.0,923.8 438.0,923.7 444.0,922.6 450.0,923.5 456.0,924.6 462.0,924.7 468.0,923.9 474.0,924.4 480.0,924.4 486.1,923.4 492.2,923.7 498.3,923.6 504.4,923.0 510.5,923.6 516.6,922.7 522.7,923.1 528.8,921.5 534.9,922.1 541.0,921.1 547.1,922.4 553.2,922.9 559.2,922.3 565.3,922.5 571.4,922.7 577.5,922.0 583.6,922.4 589.7,922.8 595.8,923.0 601.8,922.6 607.9,922.9 614.0,922.7 620.1,923.2 626.2,923.5 632.2,922.9 638.3,923.7 644.4,924.1 650.5,923.6 656.6,924.5 662.7,923.3 668.8,924.6 674.8,923.2 680.9,923.6 687.0,924.6 693.1,923.1 699.2,924.4 705.2,925.0 711.3,925.2 717.4,924.8 723.5,924.2 729.6,924.2 735.7,924.9 741.8,923.9 747.8,923.9 753.9,925.7 760.0,925.3 765.8,926.2 771.7,928.5 777.5,930.1 783.3,933.1 789.2,933.7 795.0,936.4 801.1,936.7 807.1,936.1 813.2,936.3 819.2,937.0 825.3,937.0 831.4,937.7 837.4,937.4 843.5,938.6 849.6,938.1 855.6,937.8 861.7,939.3 867.8,939.8 873.8,939.6 879.9,939.6 885.9,940.5 892.0,940.9 898.3,937.4 904.7,936.6 911.0,934.0 917.3,933.0 923.7,931.2 930.0,930.0" fill="none" stroke="#ffee20" stroke-width="5" stroke-linejoin="round" stroke-linecap="round" />
<polyline points="270.0,934.9 276.3,934.8 282.6,934.6 288.9,933.7 295.1,933.9 301.4,934.8 307.7,935.0 314.0,933.5 320.3,933.9 326.6,935.4 332.9,934.0 339.1,935.1 345.4,934.5 351.7,935.2 358.0,935.7 364.1,935.3 370.2,935.1 376.3,935.2 382.4,936.0 388.5,936.2 394.5,935.9 400.6,936.2 406.7,936.5 412.8,936.2 418.9,936.2 425.0,937.1 431.6,936.2 438.2,937.2 444.9,937.6 451.5,937.7 458.1,936.5 464.8,936.8 471.4,937.8 478.0,936.7 484.3,937.8 490.6,936.0 496.9,937.1 503.2,935.3 509.5,936.3 515.8,936.4 522.1,935.7 528.4,935.7 534.7,936.0 541.0,935.0" fill="none" stroke="#4030ff" stroke-width="5" stroke-linejoin="round" stroke-linecap="round" />
<polyline points="541.0,932.8 547.2,931.6 553.5,932.3 559.7,932.6 565.9,931.2 572.2,931.9 578.4,931.0 584.6,930.5 590.9,930.8 597.1,931.4 603.4,930.1 609.6,931.0 615.8,930.3 622.1,929.8 628.3,930.2 634.5,930.0 640.8,930.0 647.0,930.8 653.1,930.8 659.3,929.5 665.4,931.0 671.6,930.2 677.7,930.9 683.9,930.6 690.0,930.1 696.1,929.5 702.3,930.9 708.4,931.0 714.6,930.2 720.7,929.2 726.9,930.6 733.0,930.5 739.1,930.8 745.3,931.0 751.4,931.0 757.6,930.5 763.7,929.8 769.9,930.1 776.0,930.0 782.0,930.2 788.1,929.7 794.1,929.8 800.2,928.9 806.2,928.8 812.3,929.2 818.3,928.6 824.4,928.6 830.4,927.8 836.5,926.4 842.5,926.7 848.6,926.2 854.6,925.8 860.7,925.3 866.7,924.9 872.8,925.4 878.8,925.7 884.9,925.6 890.9,925.5 897.0,924.4 903.0,923.0 909.1,923.1 915.3,922.5 921.4,923.9 927.6,922.5 933.7,923.0 939.9,922.2 946.0,922.2 952.1,922.4 958.3,921.7 964.4,920.3 970.6,921.1 976.7,920.3 982.9,921.2 989.0,919.5 995.0,919.1 1001.1,920.1 1007.1,918.7 1013.1,917.6 1019.2,918.7 1025.2,918.6 1031.2,917.3 1037.3,916.3 1043.3,917.3 1049.3,915.9 1055.4,915.3 1061.4,914.5 1067.4,915.8 1073.5,914.2 1079.5,913.6 1085.6,913.7 1091.6,914.0 1097.6,914.2 1103.7,912.2 1109.7,912.6 1115.7,911.6 1121.8,912.4 1127.8,911.3 1133.8,911.3 1139.9,911.2 1145.9,910.2 1151.9,909.7 1158.0,908.4 1164.0,908.3 1170.2,909.4 1176.3,909.5 1182.5,909.2 1188.7,908.1 1194.8,909.5 1201.0,909.0" fill="none" stroke="#3355ff" stroke-width="5" stroke-linejoin="round" stroke-linecap="round" />
<polyline points="560.0,934.4 566.1,934.9 572.2,933.2 578.3,935.1 584.3,935.0 590.4,933.5 596.5,935.1 602.6,935.2 608.7,934.1 614.8,935.7 620.9,934.6 627.0,934.9 633.0,935.4 639.1,935.5 645.2,935.7 651.3,934.9 657.4,935.4 663.5,934.8 669.6,935.1 675.7,935.6 681.7,934.9 687.8,935.5 693.9,936.5 700.0,935.4 706.3,935.9 712.7,935.1 719.0,936.5 725.3,935.2 731.7,935.4 738.0,936.5 744.3,935.9 750.7,936.1 757.0,936.2 763.3,936.0 769.7,935.8 776.0,936.0" fill="none" stroke="#ff3030" stroke-width="5" stroke-linejoin="round" stroke-linecap="round" />
<polyline points="892.0,929.5 898.1,929.7 904.1,929.9 910.2,928.8 916.2,928.0 922.3,927.1 928.4,926.3 934.4,927.5 940.5,926.5 946.6,925.0 952.6,925.2 958.7,924.9 964.8,924.8 970.8,923.1 976.9,922.6 982.9,921.9 989.0,922.2 995.1,922.4 1001.1,921.6 1007.2,920.0 1013.2,920.0 1019.3,919.0 1025.3,918.8 1031.4,919.0 1037.5,917.9 1043.5,917.7 1049.6,917.2 1055.6,917.1 1061.7,917.6 1067.7,915.9 1073.8,916.2 1079.9,915.4 1085.9,914.7 1092.0,914.3 1098.0,914.8 1104.1,914.5 1110.1,913.9 1116.2,913.8 1122.3,913.0 1128.3,911.7 1134.4,911.2 1140.4,911.4 1146.5,911.1 1152.5,911.0 1158.6,910.8 1164.7,910.2 1170.7,910.1 1176.8,909.1 1182.8,908.7 1188.9,908.5 1194.9,907.4 1201.0,907.6 1207.3,907.3 1213.6,906.0 1219.9,905.2 1226.2,904.8 1232.6,904.7 1238.9,904.1 1245.2,903.5 1251.5,902.8 1257.8,903.0 1264.1,902.4 1270.4,902.4 1276.8,901.9 1283.1,899.5 1289.4,899.8 1295.7,900.0 1302.0,899.0" fill="none" stroke="#ff7020" stroke-width="5" stroke-linejoin="round" stroke-linecap="round" />
<polyline points="989.0,915.3 995.1,916.4 1001.1,916.2 1007.2,915.0 1013.2,914.5 1019.3,914.1 1025.3,913.6 1031.4,913.6 1037.5,913.3 1043.5,914.4 1049.6,912.8 1055.6,912.6 1061.7,913.8 1067.7,913.5 1073.8,911.6 1079.9,911.8 1085.9,912.9 1092.0,911.4 1098.0,911.6 1104.1,911.5 1110.1,911.2 1116.2,909.7 1122.3,910.8 1128.3,910.7 1134.4,909.7 1140.4,909.3 1146.5,909.8 1152.5,910.0 1158.6,909.7 1164.7,907.9 1170.7,908.8 1176.8,908.0 1182.8,908.7 1188.9,908.5 1194.9,907.2 1201.0,907.8 1207.5,905.5 1214.0,901.7 1220.5,900.1 1227.0,898.9 1233.2,897.6 1239.5,898.2 1245.8,898.8 1252.0,898.4 1258.2,899.4 1264.5,898.4 1270.8,899.4 1277.0,899.4 1283.2,898.6 1289.5,900.2 1295.8,900.4 1302.0,900.0" fill="none" stroke="#ff2a40" stroke-width="5" stroke-linejoin="round" stroke-linecap="round" />
<polyline points="989.0,923.6 995.1,923.7 1001.2,923.7 1007.3,922.7 1013.4,923.3 1019.5,924.0 1025.5,923.0 1031.6,922.8 1037.7,923.1 1043.8,922.3 1049.9,921.7 1056.0,922.7 1062.1,921.2 1068.2,922.4 1074.3,922.2 1080.4,921.4 1086.5,921.1 1092.5,920.0 1098.6,920.1 1104.7,921.1 1110.8,920.8 1116.9,920.4 1123.0,919.3 1129.1,920.3 1135.2,920.6 1141.3,920.2 1147.4,919.6 1153.5,919.0 1159.5,918.8 1165.6,918.0 1171.7,917.6 1177.8,919.3 1183.9,918.0 1190.0,917.8 1196.2,918.0 1202.3,919.0 1208.5,918.8 1214.7,918.4 1220.8,918.6 1227.0,918.1 1233.0,917.2 1239.0,916.5 1245.0,915.2 1251.0,912.9 1257.0,912.7 1263.0,911.9 1269.0,911.0 1275.0,910.5 1281.0,909.1 1287.0,907.3 1293.0,906.4 1299.0,906.0 1305.0,904.9 1311.0,903.0 1317.0,902.0 1323.0,901.4 1329.0,900.1 1335.0,899.4 1341.0,898.8 1347.0,897.0" fill="none" stroke="#30c8ff" stroke-width="5" stroke-linejoin="round" stroke-linecap="round" />
<polyline points="1216.0,904.9 1222.2,903.4 1228.5,903.9 1234.7,902.4 1241.0,902.4 1247.2,901.6 1253.4,901.8 1259.7,900.5 1265.9,900.8 1272.1,900.2 1278.4,899.3 1284.6,900.4 1290.9,900.3 1297.1,898.3 1303.3,898.9 1309.6,898.3 1315.8,897.8 1322.0,897.7 1328.3,897.5 1334.5,896.3 1340.8,896.1 1347.0,896.0 1353.1,896.3 1359.2,895.5 1365.2,894.6 1371.3,893.2 1377.4,893.5 1383.5,893.0 1389.6,892.1 1395.7,890.1 1401.8,889.8 1407.8,888.8 1413.9,888.6 1420.0,888.7 1426.2,887.1 1432.4,885.8 1438.6,884.5 1444.9,883.6 1451.1,884.0 1457.3,883.3 1463.5,882.3 1469.7,879.6 1475.9,879.2 1482.1,878.0 1488.4,877.7 1494.6,876.3 1500.8,875.9 1507.0,874.9 1509.0,881.8 1511.0,888.0" fill="none" stroke="#2a6aff" stroke-width="5" stroke-linejoin="round" stroke-linecap="round" />
<circle cx="541" cy="927" r="17" fill="url(#ballG)"/>
<circle cx="778" cy="932" r="18" fill="url(#ballG)"/>
<circle cx="1216" cy="905" r="18" fill="url(#ballG)"/>
<rect x="1360" y="943.5" width="127" height="20.5" fill="#fff" stroke="none" stroke-width="0" />
<g clip-path="url(#cr1)">
<rect x="1548.5" y="398.5" width="1419.0" height="178.0" fill="#000"/>
<g><rect x="1548.5" y="398.5" width="1419.0" height="178.0" fill="#fff" opacity="0.045"/></g>
<g><rect x="1548.5" y="398.5" width="1419.0" height="178.0" fill="#fff" opacity="0.17279999999999998" filter="url(#gnoise)"/></g>
<g mask="url(#mr1_2)"><rect x="1548.5" y="398.5" width="1419.0" height="178.0" fill="#fff" opacity="0.6" filter="url(#gn2)"/></g>
<g mask="url(#mr1_3)"><rect x="1548.5" y="398.5" width="1419.0" height="178.0" fill="#fff" opacity="0.16"/></g>
</g>
<rect x="1640" y="398.5" width="106" height="35" fill="#000" stroke="none" stroke-width="0" />
<rect x="1593" y="433" width="206" height="41" fill="#000" stroke="none" stroke-width="0" />
<text x="1643" y="433" font-size="45" text-anchor="start" fill="#fff" >Time</text>
<text x="1550" y="468" font-size="40.5" text-anchor="start" fill="#fff" >0s</text>
<rect x="1600.5" y="439" width="2" height="26" fill="#fff" stroke="none" stroke-width="0" />
<rect x="1604" y="439" width="2" height="26" fill="#fff" stroke="none" stroke-width="0" />
<rect x="1606" y="439" width="182" height="26" fill="url(#tbar)" stroke="none" stroke-width="0" />
<text x="1793" y="468" font-size="40.5" text-anchor="start" fill="#fff" >30s</text>
<circle cx="1579" cy="501" r="10" fill="url(#ballR)"/>
<circle cx="1636" cy="488" r="11" fill="url(#ballR)"/>
<circle cx="1786" cy="485" r="8" fill="url(#ballR)"/>
<circle cx="1822" cy="490" r="11" fill="url(#ballR)"/>
<circle cx="1878" cy="481" r="11" fill="url(#ballR)"/>
<circle cx="1952" cy="463" r="10" fill="url(#ballR)"/>
<circle cx="2156" cy="438" r="10" fill="url(#ballR)"/>
<circle cx="2203" cy="438" r="12" fill="url(#ballR)"/>
<circle cx="2289" cy="447" r="12" fill="url(#ballR)"/>
<circle cx="2617" cy="484" r="11" fill="url(#ballR)"/>
<circle cx="2703" cy="499" r="10" fill="url(#ballR)"/>
<circle cx="2788" cy="512" r="12.5" fill="url(#ballR)"/>
<circle cx="2823" cy="512" r="12.5" fill="url(#ballR)"/>
<circle cx="2962" cy="528" r="11" fill="url(#ballR)"/>
<rect x="2813" y="549" width="128" height="21" fill="#fff" stroke="none" stroke-width="0" />
<g clip-path="url(#cr2)">
<rect x="1548.5" y="594.5" width="1419.0" height="178.0" fill="#000"/>
<g><rect x="1548.5" y="594.5" width="1419.0" height="178.0" fill="#fff" opacity="0.045"/></g>
<g><rect x="1548.5" y="594.5" width="1419.0" height="178.0" fill="#fff" opacity="0.17279999999999998" filter="url(#gnoise)"/></g>
<g mask="url(#mr2_2)"><rect x="1548.5" y="594.5" width="1419.0" height="178.0" fill="#fff" opacity="0.55" filter="url(#gn2)"/></g>
<g mask="url(#mr2_3)"><rect x="1548.5" y="594.5" width="1419.0" height="178.0" fill="#fff" opacity="0.13"/></g>
</g>
<polyline points="1566.0,699.7 1570.0,701.5 1574.0,701.8 1578.0,700.8 1582.0,701.0 1586.0,700.6 1590.0,700.6 1594.0,699.9 1598.0,699.2 1602.0,697.5 1606.0,698.0" fill="none" stroke="#40c0ff" stroke-width="8" stroke-linejoin="round" stroke-linecap="round" />
<polyline points="1859.0,678.7 1863.1,678.5 1867.2,677.1 1871.2,676.0 1875.3,676.6 1879.4,674.9 1883.5,674.6 1887.6,675.9 1891.7,673.2 1895.8,675.0 1899.8,673.9 1903.9,672.9 1908.0,673.0" fill="none" stroke="#30b0ff" stroke-width="8" stroke-linejoin="round" stroke-linecap="round" />
<polyline points="1949.0,663.2 1953.0,661.5 1957.0,661.8 1961.0,662.8 1965.0,661.4 1969.0,660.7 1973.0,663.1 1977.0,660.9 1981.0,661.3 1985.0,661.0" fill="none" stroke="#40d0ff" stroke-width="8" stroke-linejoin="round" stroke-linecap="round" />
<polyline points="2190.0,642.2 2194.0,640.2 2198.0,641.9 2202.0,641.0 2206.0,640.5 2210.0,640.0" fill="none" stroke="#5030ff" stroke-width="8" stroke-linejoin="round" stroke-linecap="round" />
<polyline points="2250.0,647.9 2254.4,648.2 2258.8,649.7 2263.1,650.9 2267.5,649.4 2271.9,649.4 2276.2,649.9 2280.6,651.0 2285.0,652.0" fill="none" stroke="#40c0ff" stroke-width="8" stroke-linejoin="round" stroke-linecap="round" />
<polyline points="2375.0,659.3 2379.0,659.5 2383.0,662.1 2387.0,661.9 2391.0,662.5 2395.0,663.0" fill="none" stroke="#5030ff" stroke-width="8" stroke-linejoin="round" stroke-linecap="round" />
<polyline points="2425.0,669.3 2429.0,668.7 2433.0,666.4 2437.0,668.0 2441.0,667.4 2445.0,667.2 2449.0,667.7 2453.0,668.5 2457.0,668.4 2461.0,666.9 2465.0,667.0" fill="none" stroke="#40d0ff" stroke-width="8" stroke-linejoin="round" stroke-linecap="round" />
<polyline points="2510.0,670.0 2515.0,670.4 2520.0,672.2 2525.0,673.0" fill="none" stroke="#6030ff" stroke-width="8" stroke-linejoin="round" stroke-linecap="round" />
<polyline points="2595.0,675.6 2598.9,676.9 2602.8,679.3 2606.7,680.8 2610.6,682.3 2614.4,682.5 2618.3,682.7 2622.2,683.9 2626.1,686.2 2630.0,688.0" fill="none" stroke="#5050ff" stroke-width="8" stroke-linejoin="round" stroke-linecap="round" />
<polyline points="2675.0,697.2 2679.0,697.6 2683.0,697.1 2687.0,697.5 2691.0,700.3 2695.0,700.0" fill="none" stroke="#40d0ff" stroke-width="8" stroke-linejoin="round" stroke-linecap="round" />
<polyline points="2705.0,697.0 2709.2,699.6 2713.3,699.9 2717.5,698.6 2721.7,699.8 2725.8,698.3 2730.0,700.0" fill="none" stroke="#4060ff" stroke-width="8" stroke-linejoin="round" stroke-linecap="round" />
<polyline points="2780.0,707.2 2784.3,707.1 2788.6,707.8 2792.9,709.4 2797.1,710.8 2801.4,711.9 2805.7,712.4 2810.0,712.0" fill="none" stroke="#5040ff" stroke-width="8" stroke-linejoin="round" stroke-linecap="round" />
<polyline points="2830.0,712.4 2834.0,713.1 2838.0,711.3 2842.0,712.8 2846.0,712.2 2850.0,712.0" fill="none" stroke="#40d0ff" stroke-width="8" stroke-linejoin="round" stroke-linecap="round" />
<polyline points="1800.0,684.6 1805.0,683.3 1810.0,683.8 1815.0,684.0" fill="none" stroke="#40a0ff" stroke-width="8" stroke-linejoin="round" stroke-linecap="round" />
<circle cx="1558" cy="699" r="12" fill="url(#ballR)"/>
<circle cx="1637" cy="690" r="9" fill="url(#ballR)"/>
<circle cx="1786" cy="683" r="10" fill="url(#ballR)"/>
<circle cx="1835" cy="684" r="12" fill="url(#ballR)"/>
<circle cx="1875" cy="680" r="10" fill="url(#ballR)"/>
<circle cx="2153" cy="638" r="10.5" fill="url(#ballR)"/>
<circle cx="2214" cy="644" r="10" fill="url(#ballR)"/>
<circle cx="2296" cy="653" r="9" fill="url(#ballR)"/>
<circle cx="2396" cy="665" r="8" fill="url(#ballR)"/>
<circle cx="2521" cy="673" r="8" fill="url(#ballR)"/>
<circle cx="2582" cy="670" r="14" fill="url(#ballR)"/>
<circle cx="2750" cy="705" r="10" fill="url(#ballR)"/>
<circle cx="2823" cy="712" r="12.5" fill="url(#ballR)"/>
<circle cx="2964" cy="727" r="10" fill="url(#ballR)"/>
<rect x="2813" y="747" width="128" height="20" fill="#fff" stroke="none" stroke-width="0" />
<g clip-path="url(#cr3)">
<rect x="1548.5" y="791.5" width="1419.0" height="177.0" fill="#000"/>
<g><rect x="1548.5" y="791.5" width="1419.0" height="177.0" fill="#fff" opacity="0.045"/></g>
<g><rect x="1548.5" y="791.5" width="1419.0" height="177.0" fill="#fff" opacity="0.17279999999999998" filter="url(#gnoise)"/></g>
<g mask="url(#mr3_2)"><rect x="1548.5" y="791.5" width="1419.0" height="177.0" fill="#fff" opacity="0.55" filter="url(#gn2)"/></g>
<g mask="url(#mr3_3)"><rect x="1548.5" y="791.5" width="1419.0" height="177.0" fill="#fff" opacity="0.13"/></g>
</g>
<polyline points="1552.0,891.0 1556.6,890.7 1561.2,893.0 1565.8,892.8 1570.4,891.8 1575.0,893.0" fill="none" stroke="#40c0ff" stroke-width="9" stroke-linejoin="round" stroke-linecap="round" />
<polyline points="1625.0,887.5 1629.4,888.7 1633.8,887.2 1638.1,887.0 1642.5,887.4 1646.9,886.3 1651.2,888.6 1655.6,886.8 1660.0,887.0" fill="none" stroke="#ff9040" stroke-width="9" stroke-linejoin="round" stroke-linecap="round" />
<polyline points="1760.0,885.0 1764.0,884.8 1768.0,883.4 1772.0,884.0 1776.0,884.0 1780.0,883.3 1784.0,882.0 1788.0,883.3 1792.0,882.5 1796.0,883.7 1800.0,882.0" fill="none" stroke="#40c0ff" stroke-width="9" stroke-linejoin="round" stroke-linecap="round" />
<polyline points="1757.0,885.3 1760.6,882.2 1764.2,878.4 1767.8,876.5 1771.4,871.4 1775.0,870.0" fill="none" stroke="#70e030" stroke-width="9" stroke-linejoin="round" stroke-linecap="round" />
<polyline points="1878.0,876.1 1882.2,874.2 1886.4,874.2 1890.5,873.7 1894.7,873.0 1898.9,872.4 1903.1,872.7 1907.2,872.4 1911.4,870.2 1915.6,871.6 1919.8,868.4 1923.9,868.3 1928.1,869.6 1932.3,866.9 1936.5,866.5 1940.6,867.0 1944.8,864.2 1949.0,865.0" fill="none" stroke="#50e050" stroke-width="9" stroke-linejoin="round" stroke-linecap="round" />
<polyline points="1950.0,856.2 1954.4,857.5 1958.8,854.7 1963.1,856.5 1967.5,854.8 1971.9,854.7 1976.2,853.5 1980.6,852.4 1985.0,853.0" fill="none" stroke="#ffc020" stroke-width="9" stroke-linejoin="round" stroke-linecap="round" />
<polyline points="2030.0,842.4 2034.0,842.8 2038.0,843.4 2042.0,843.5 2046.0,843.7 2050.0,843.8 2054.0,845.2 2058.0,845.1 2062.0,844.0 2066.0,843.6 2070.0,845.0" fill="none" stroke="#50e050" stroke-width="9" stroke-linejoin="round" stroke-linecap="round" />
<polyline points="2150.0,837.6 2154.0,838.4 2158.0,837.9 2162.0,837.1 2166.0,838.5 2170.0,838.4 2174.0,838.0 2178.0,838.2 2182.0,838.5 2186.0,840.2 2190.0,840.0" fill="none" stroke="#ffd030" stroke-width="9" stroke-linejoin="round" stroke-linecap="round" />
<polyline points="2190.0,838.2 2194.0,837.0 2198.0,839.5 2202.0,839.4 2206.0,839.7 2210.0,839.8 2214.0,840.1 2218.0,842.1 2222.0,842.1 2226.0,840.6 2230.0,842.0" fill="none" stroke="#5050ff" stroke-width="9" stroke-linejoin="round" stroke-linecap="round" />
<polyline points="2240.0,845.8 2244.2,844.8 2248.3,845.1 2252.5,845.4 2256.7,844.7 2260.8,846.5 2265.0,845.4 2269.2,846.1 2273.3,845.8 2277.5,847.9 2281.7,846.9 2285.8,848.8 2290.0,848.0" fill="none" stroke="#30d0a0" stroke-width="9" stroke-linejoin="round" stroke-linecap="round" />
<polyline points="2330.0,859.3 2334.0,859.1 2338.0,861.3 2342.0,860.2 2346.0,861.8 2350.0,862.1 2354.0,861.5 2358.0,861.3 2362.0,861.0 2366.0,861.4 2370.0,860.2 2374.0,861.3 2378.0,861.5 2382.0,863.0 2386.0,863.1 2390.0,862.0" fill="none" stroke="#ff6040" stroke-width="9" stroke-linejoin="round" stroke-linecap="round" />
<polyline points="2410.0,863.2 2414.1,862.6 2418.2,862.9 2422.4,862.8 2426.5,863.1 2430.6,863.4 2434.7,862.3 2438.8,861.5 2442.9,862.2 2447.1,861.6 2451.2,860.7 2455.3,860.9 2459.4,860.7 2463.5,863.4 2467.6,863.3 2471.8,862.4 2475.9,863.4 2480.0,862.0" fill="none" stroke="#50c0ff" stroke-width="9" stroke-linejoin="round" stroke-linecap="round" />
<polyline points="2490.0,867.2 2494.0,867.3 2498.0,867.6 2502.0,865.9 2506.0,867.6 2510.0,866.7 2514.0,869.4 2518.0,867.4 2522.0,868.6 2526.0,868.2 2530.0,870.0" fill="none" stroke="#ff9030" stroke-width="9" stroke-linejoin="round" stroke-linecap="round" />
<polyline points="2600.0,880.0 2604.0,879.8 2608.0,883.3 2612.0,881.9 2616.0,884.5 2620.0,883.7 2624.0,885.0 2628.0,888.4 2632.0,889.1 2636.0,888.6 2640.0,890.3 2644.0,890.4 2648.0,892.3 2652.0,892.3 2656.0,894.9 2660.0,895.0" fill="none" stroke="#50e050" stroke-width="9" stroke-linejoin="round" stroke-linecap="round" />
<polyline points="2660.0,893.8 2664.0,895.2 2668.0,894.4 2672.0,895.8 2676.0,896.6 2680.0,897.8 2684.0,895.4 2688.0,897.7 2692.0,898.3 2696.0,899.1 2700.0,898.0" fill="none" stroke="#ff5030" stroke-width="9" stroke-linejoin="round" stroke-linecap="round" />
<polyline points="2740.0,902.4 2744.0,902.4 2748.0,903.6 2752.0,902.5 2756.0,903.0 2760.0,903.2 2764.0,904.8 2768.0,906.2 2772.0,907.4 2776.0,907.3 2780.0,908.2 2784.0,907.7 2788.0,907.1 2792.0,909.2 2796.0,910.9 2800.0,910.0" fill="none" stroke="#70f050" stroke-width="9" stroke-linejoin="round" stroke-linecap="round" />
<polyline points="2800.0,910.6 2804.0,911.2 2808.0,910.1 2812.0,911.2 2816.0,910.6 2820.0,911.1 2824.0,911.2 2828.0,911.8 2832.0,911.9 2836.0,913.3 2840.0,912.8 2844.0,914.6 2848.0,913.1 2852.0,914.7 2856.0,914.8 2860.0,915.0" fill="none" stroke="#ffb030" stroke-width="9" stroke-linejoin="round" stroke-linecap="round" />
<circle cx="1585" cy="898" r="14" fill="url(#ballR)"/>
<circle cx="1641" cy="889" r="10" fill="url(#ballR)"/>
<circle cx="1832" cy="884" r="12" fill="url(#ballR)"/>
<circle cx="1871" cy="879" r="10" fill="url(#ballR)"/>
<circle cx="1967" cy="857" r="8" fill="url(#ballR)"/>
<circle cx="2044" cy="845" r="10" fill="url(#ballR)"/>
<circle cx="2143" cy="842" r="10.5" fill="url(#ballR)"/>
<circle cx="2221" cy="842" r="14" fill="url(#ballR)"/>
<circle cx="2319" cy="854" r="10.5" fill="url(#ballR)"/>
<circle cx="2396" cy="865" r="10" fill="url(#ballR)"/>
<circle cx="2486" cy="864" r="8" fill="url(#ballR)"/>
<circle cx="2519" cy="871" r="9" fill="url(#ballR)"/>
<circle cx="2582" cy="871" r="14" fill="url(#ballR)"/>
<circle cx="2678" cy="895" r="10" fill="url(#ballR)"/>
<circle cx="2729" cy="898" r="13" fill="url(#ballR)"/>
<circle cx="2833" cy="916" r="11" fill="url(#ballR)"/>
<circle cx="2962" cy="926" r="10" fill="url(#ballR)"/>
<rect x="2813" y="943" width="128" height="21" fill="#fff" stroke="none" stroke-width="0" />
<text x="0" y="1104" font-size="72" text-anchor="start" fill="#000" font-weight="bold" >B</text>
<path d="M316.0,1110.0L316.0,1080.0M303.0,1102.5L329.0,1087.5M303.0,1087.5L329.0,1102.5" stroke="#000" stroke-width="6" fill="none"/>
<path d="M607.4,1110.0L607.4,1080.0M594.4,1102.5L620.4,1087.5M594.4,1087.5L620.4,1102.5" stroke="#000" stroke-width="6" fill="none"/>
<path d="M640.0,1110.0L640.0,1080.0M627.0,1102.5L653.0,1087.5M627.0,1087.5L653.0,1102.5" stroke="#000" stroke-width="6" fill="none"/>
<path d="M672.6,1110.0L672.6,1080.0M659.6,1102.5L685.6,1087.5M659.6,1087.5L685.6,1102.5" stroke="#000" stroke-width="6" fill="none"/>
<text x="965" y="1110" font-size="50" text-anchor="middle" fill="#000" >ns</text>
<line x1="257" y1="1126" x2="375" y2="1126" stroke="#000" stroke-width="2" stroke-linecap="butt" />
<line x1="580" y1="1126" x2="699" y2="1126" stroke="#000" stroke-width="2" stroke-linecap="butt" />
<line x1="906" y1="1126" x2="1023" y2="1126" stroke="#000" stroke-width="2" stroke-linecap="butt" />
<line x1="168" y1="1166" x2="168" y2="1798.5" stroke="#000" stroke-width="2.5" stroke-linecap="butt" />
<line x1="158" y1="1167.0" x2="169.25" y2="1167.0" stroke="#000" stroke-width="2.5" stroke-linecap="butt" />
<line x1="158" y1="1324.8" x2="169.25" y2="1324.8" stroke="#000" stroke-width="2.5" stroke-linecap="butt" />
<line x1="158" y1="1482.6" x2="169.25" y2="1482.6" stroke="#000" stroke-width="2.5" stroke-linecap="butt" />
<line x1="158" y1="1640.4" x2="169.25" y2="1640.4" stroke="#000" stroke-width="2.5" stroke-linecap="butt" />
<line x1="158" y1="1798.1999999999998" x2="169.25" y2="1798.1999999999998" stroke="#000" stroke-width="2.5" stroke-linecap="butt" />
<line x1="162" y1="1245.9" x2="169.25" y2="1245.9" stroke="#000" stroke-width="2.5" stroke-linecap="butt" />
<line x1="162" y1="1403.7" x2="169.25" y2="1403.7" stroke="#000" stroke-width="2.5" stroke-linecap="butt" />
<line x1="162" y1="1561.5" x2="169.25" y2="1561.5" stroke="#000" stroke-width="2.5" stroke-linecap="butt" />
<line x1="162" y1="1719.3" x2="169.25" y2="1719.3" stroke="#000" stroke-width="2.5" stroke-linecap="butt" />
<text x="148.5" y="1185.5" font-size="52" text-anchor="end" fill="#000" >50</text>
<text x="148.5" y="1343.3" font-size="52" text-anchor="end" fill="#000" >40</text>
<text x="148.5" y="1501.1" font-size="52" text-anchor="end" fill="#000" >30</text>
<text x="148.5" y="1658.9" font-size="52" text-anchor="end" fill="#000" >20</text>
<text x="148.5" y="1816.6999999999998" font-size="52" text-anchor="end" fill="#000" >10</text>
<text x="0" y="0" font-size="51.3" text-anchor="middle" fill="#000" transform="translate(68.5,1457) rotate(-90)">APP time in motion (%)</text>
<rect x="216" y="1279" width="83" height="518" fill="#718c3a" stroke="#000" stroke-width="6" />
<line x1="258" y1="1240" x2="258" y2="1312" stroke="#000" stroke-width="5.5" stroke-linecap="butt" />
<line x1="247.5" y1="1240" x2="268.5" y2="1240" stroke="#000" stroke-width="6.3" stroke-linecap="round" />
<line x1="247.5" y1="1312" x2="268.5" y2="1312" stroke="#000" stroke-width="6.3" stroke-linecap="round" />
<rect x="333" y="1365" width="83" height="432" fill="#ff2d00" stroke="#000" stroke-width="6" />
<line x1="374" y1="1347" x2="374" y2="1375" stroke="#000" stroke-width="5.5" stroke-linecap="butt" />
<line x1="363.5" y1="1347" x2="384.5" y2="1347" stroke="#000" stroke-width="6.3" stroke-linecap="round" />
<line x1="363.5" y1="1375" x2="384.5" y2="1375" stroke="#000" stroke-width="6.3" stroke-linecap="round" />
<rect x="540" y="1492" width="82" height="305" fill="#718c3a" stroke="#000" stroke-width="6" />
<line x1="581" y1="1460" x2="581" y2="1514" stroke="#000" stroke-width="5.5" stroke-linecap="butt" />
<line x1="570.5" y1="1460" x2="591.5" y2="1460" stroke="#000" stroke-width="6.3" stroke-linecap="round" />
<line x1="570.5" y1="1514" x2="591.5" y2="1514" stroke="#000" stroke-width="6.3" stroke-linecap="round" />
<rect x="657" y="1369" width="82" height="428" fill="#ff2d00" stroke="#000" stroke-width="6" />
<line x1="698" y1="1350" x2="698" y2="1379" stroke="#000" stroke-width="5.5" stroke-linecap="butt" />
<line x1="687.5" y1="1350" x2="708.5" y2="1350" stroke="#000" stroke-width="6.3" stroke-linecap="round" />
<line x1="687.5" y1="1379" x2="708.5" y2="1379" stroke="#000" stroke-width="6.3" stroke-linecap="round" />
<rect x="864" y="1532" width="83" height="265" fill="#718c3a" stroke="#000" stroke-width="6" />
<line x1="906" y1="1499" x2="906" y2="1556" stroke="#000" stroke-width="5.5" stroke-linecap="butt" />
<line x1="895.5" y1="1499" x2="916.5" y2="1499" stroke="#000" stroke-width="6.3" stroke-linecap="round" />
<line x1="895.5" y1="1556" x2="916.5" y2="1556" stroke="#000" stroke-width="6.3" stroke-linecap="round" />
<rect x="982" y="1569" width="81" height="228" fill="#ff2d00" stroke="#000" stroke-width="6" />
<line x1="1022" y1="1544.6" x2="1022" y2="1584" stroke="#000" stroke-width="5.5" stroke-linecap="butt" />
<line x1="1011.5" y1="1544.6" x2="1032.5" y2="1544.6" stroke="#000" stroke-width="6.3" stroke-linecap="round" />
<line x1="1011.5" y1="1584" x2="1032.5" y2="1584" stroke="#000" stroke-width="6.3" stroke-linecap="round" />
<rect x="879.25" y="1259.55" width="212.0" height="98.20000000000005" fill="#fff" stroke="#000" stroke-width="2.5" />
<rect x="891.0" y="1274.2" width="22.5" height="22.5" fill="#718c3a" stroke="#000" stroke-width="6" />
<rect x="891.0" y="1321.0" width="22.5" height="22.5" fill="#ff2d00" stroke="#000" stroke-width="6" />
<text x="939" y="1301" font-size="44" fill="#000" text-anchor="start">APP<tspan font-size="30">wt</tspan></text>
<text x="939" y="1348" font-size="44" fill="#000" text-anchor="start">APP<tspan font-size="30">swe</tspan></text>
<rect x="166.25" y="1815.25" width="945.5" height="56.5" fill="#fff" stroke="#000" stroke-width="2.5" />
<line x1="481" y1="1814" x2="481" y2="1873" stroke="#000" stroke-width="2.5" stroke-linecap="butt" />
<line x1="797" y1="1814" x2="797" y2="1873" stroke="#000" stroke-width="2.5" stroke-linecap="butt" />
<text x="326" y="1862" font-size="51" text-anchor="middle" fill="#000">Anterograde</text>
<text x="640.5" y="1862" font-size="51" text-anchor="middle" fill="#000">Retrograde</text>
<text x="955" y="1862" font-size="51" text-anchor="middle" fill="#000">Pause</text>
<text x="1123" y="1103" font-size="72" text-anchor="start" fill="#000" font-weight="bold" >C</text>
<path d="M1488.4,1109.0L1488.4,1079.0M1475.4,1101.5L1501.4,1086.5M1475.4,1086.5L1501.4,1101.5" stroke="#000" stroke-width="6" fill="none"/>
<path d="M1521.0,1109.0L1521.0,1079.0M1508.0,1101.5L1534.0,1086.5M1508.0,1086.5L1534.0,1101.5" stroke="#000" stroke-width="6" fill="none"/>
<path d="M1553.6,1109.0L1553.6,1079.0M1540.6,1101.5L1566.6,1086.5M1540.6,1086.5L1566.6,1101.5" stroke="#000" stroke-width="6" fill="none"/>
<text x="1815.5" y="1110" font-size="50" text-anchor="middle" fill="#000" >ns</text>
<line x1="1448" y1="1125" x2="1594" y2="1125" stroke="#000" stroke-width="2" stroke-linecap="butt" />
<line x1="1742" y1="1125" x2="1887" y2="1125" stroke="#000" stroke-width="2" stroke-linecap="butt" />
<line x1="1351" y1="1165" x2="1351" y2="1808" stroke="#000" stroke-width="2.5" stroke-linecap="butt" />
<line x1="1341" y1="1165.4" x2="1352.25" y2="1165.4" stroke="#000" stroke-width="2.5" stroke-linecap="butt" />
<line x1="1341" y1="1322.4" x2="1352.25" y2="1322.4" stroke="#000" stroke-width="2.5" stroke-linecap="butt" />
<line x1="1341" y1="1479.4" x2="1352.25" y2="1479.4" stroke="#000" stroke-width="2.5" stroke-linecap="butt" />
<line x1="1341" y1="1636.4" x2="1352.25" y2="1636.4" stroke="#000" stroke-width="2.5" stroke-linecap="butt" />
<line x1="1341" y1="1787.1200000000001" x2="1352.25" y2="1787.1200000000001" stroke="#000" stroke-width="2.5" stroke-linecap="butt" />
<line x1="1345" y1="1243.9" x2="1352.25" y2="1243.9" stroke="#000" stroke-width="2.5" stroke-linecap="butt" />
<line x1="1345" y1="1400.9" x2="1352.25" y2="1400.9" stroke="#000" stroke-width="2.5" stroke-linecap="butt" />
<line x1="1345" y1="1557.9" x2="1352.25" y2="1557.9" stroke="#000" stroke-width="2.5" stroke-linecap="butt" />
<line x1="1345" y1="1714.9" x2="1352.25" y2="1714.9" stroke="#000" stroke-width="2.5" stroke-linecap="butt" />
<text x="1333" y="1184.4" font-size="53.5" text-anchor="end" fill="#000" >100</text>
<text x="1333" y="1341.4" font-size="53.5" text-anchor="end" fill="#000" >75</text>
<text x="1333" y="1498.4" font-size="53.5" text-anchor="end" fill="#000" >50</text>
<text x="1333" y="1655.4" font-size="53.5" text-anchor="end" fill="#000" >25</text>
<text x="1333" y="1806.1200000000001" font-size="53.5" text-anchor="end" fill="#000" >1</text>
<text x="0" y="0" font-size="52" text-anchor="middle" fill="#000" transform="translate(1228,1470) rotate(-90)">Track lengths (μm)</text>
<line x1="1671" y1="1166" x2="1671" y2="1800" stroke="#000" stroke-width="2" stroke-linecap="butt" stroke-dasharray="2.5,3.5"/>
<line x1="1449.5" y1="1202" x2="1449.5" y2="1507" stroke="#000" stroke-width="5.8" stroke-linecap="butt" />
<line x1="1449.5" y1="1738" x2="1449.5" y2="1777" stroke="#000" stroke-width="5.8" stroke-linecap="butt" />
<line x1="1422.5" y1="1202" x2="1476.5" y2="1202" stroke="#000" stroke-width="5.8" stroke-linecap="round" />
<line x1="1422.5" y1="1777" x2="1476.5" y2="1777" stroke="#000" stroke-width="5.8" stroke-linecap="round" />
<rect x="1404.0" y="1510.0" width="91" height="225" fill="#718c3a" stroke="#000" stroke-width="6" />
<line x1="1404.0" y1="1647" x2="1495.0" y2="1647" stroke="#000" stroke-width="6" stroke-linecap="butt" />
<line x1="1598.0" y1="1640" x2="1598.0" y2="1706" stroke="#000" stroke-width="5.8" stroke-linecap="butt" />
<line x1="1598.0" y1="1748" x2="1598.0" y2="1789" stroke="#000" stroke-width="5.8" stroke-linecap="butt" />
<line x1="1571.5" y1="1640" x2="1624.5" y2="1640" stroke="#000" stroke-width="5.8" stroke-linecap="round" />
<line x1="1571.5" y1="1789" x2="1624.5" y2="1789" stroke="#000" stroke-width="5.8" stroke-linecap="round" />
<rect x="1552.0" y="1709.0" width="92" height="36" fill="#ff2d00" stroke="#000" stroke-width="6" />
<line x1="1552.0" y1="1729" x2="1644.0" y2="1729" stroke="#000" stroke-width="6" stroke-linecap="butt" />
<line x1="1746.0" y1="1588.5" x2="1746.0" y2="1663" stroke="#000" stroke-width="5.8" stroke-linecap="butt" />
<line x1="1746.0" y1="1750" x2="1746.0" y2="1781" stroke="#000" stroke-width="5.8" stroke-linecap="butt" />
<line x1="1719.0" y1="1588.5" x2="1773.0" y2="1588.5" stroke="#000" stroke-width="5.8" stroke-linecap="round" />
<line x1="1719.0" y1="1781" x2="1773.0" y2="1781" stroke="#000" stroke-width="5.8" stroke-linecap="round" />
<rect x="1700.0" y="1666.0" width="92" height="81" fill="#718c3a" stroke="#000" stroke-width="6" />
<line x1="1700.0" y1="1714" x2="1792.0" y2="1714" stroke="#000" stroke-width="6" stroke-linecap="butt" />
<line x1="1894.5" y1="1635" x2="1894.5" y2="1706" stroke="#000" stroke-width="5.8" stroke-linecap="butt" />
<line x1="1894.5" y1="1750" x2="1894.5" y2="1775" stroke="#000" stroke-width="5.8" stroke-linecap="butt" />
<line x1="1867.5" y1="1635" x2="1921.5" y2="1635" stroke="#000" stroke-width="5.8" stroke-linecap="round" />
<line x1="1867.5" y1="1775" x2="1921.5" y2="1775" stroke="#000" stroke-width="5.8" stroke-linecap="round" />
<rect x="1849.0" y="1709.0" width="91" height="38" fill="#ff2d00" stroke="#000" stroke-width="6" />
<line x1="1849.0" y1="1729" x2="1940.0" y2="1729" stroke="#000" stroke-width="6" stroke-linecap="butt" />
<circle cx="1598" cy="1427" r="4" fill="#fff" stroke="#000" stroke-width="2.2"/>
<circle cx="1598" cy="1609" r="4" fill="#fff" stroke="#000" stroke-width="2.2"/>
<circle cx="1598" cy="1628" r="4" fill="#fff" stroke="#000" stroke-width="2.2"/>
<circle cx="1598" cy="1633" r="4" fill="#fff" stroke="#000" stroke-width="2.2"/>
<circle cx="1746" cy="1406" r="4" fill="#fff" stroke="#000" stroke-width="2.2"/>
<line x1="1358" y1="1787.6" x2="1988" y2="1787.6" stroke="#14238a" stroke-width="6" stroke-linecap="round" stroke-dasharray="0,11.7"/>
<rect x="1776.0" y="1251.0" width="173" height="90" fill="#fff" stroke="#000" stroke-width="4" />
<rect x="1787.5" y="1264.5" width="18.5" height="18.5" fill="#718c3a" stroke="#000" stroke-width="5" />
<rect x="1787.5" y="1310.0" width="18.5" height="18.5" fill="#ff2d00" stroke="#000" stroke-width="5" />
<text x="1816" y="1288" font-size="40" fill="#000" text-anchor="start">APP<tspan font-size="28">wt</tspan></text>
<text x="1816" y="1331.5" font-size="40" fill="#000" text-anchor="start">APP<tspan font-size="28">swe</tspan></text>
<rect x="1352.25" y="1815.25" width="639.5" height="55.5" fill="#fff" stroke="#000" stroke-width="2.5" />
<line x1="1672" y1="1814" x2="1672" y2="1872" stroke="#000" stroke-width="2.5" stroke-linecap="butt" />
<text x="1511.5" y="1856.5" font-size="51" text-anchor="middle" fill="#000">Anterograde</text>
<text x="1830.5" y="1856.5" font-size="51" text-anchor="middle" fill="#000">Retrograde</text>
<text x="2036" y="1112" font-size="72" text-anchor="start" fill="#000" font-weight="bold" >D</text>
<path d="M2345.7,1109.0L2345.7,1079.0M2332.7,1101.5L2358.7,1086.5M2332.7,1086.5L2358.7,1101.5" stroke="#000" stroke-width="6" fill="none"/>
<path d="M2378.3,1109.0L2378.3,1079.0M2365.3,1101.5L2391.3,1086.5M2365.3,1086.5L2391.3,1101.5" stroke="#000" stroke-width="6" fill="none"/>
<text x="2664" y="1110" font-size="50" text-anchor="middle" fill="#000" >ns</text>
<line x1="2288" y1="1123" x2="2438" y2="1123" stroke="#000" stroke-width="2" stroke-linecap="butt" />
<line x1="2589" y1="1123" x2="2739" y2="1123" stroke="#000" stroke-width="2" stroke-linecap="butt" />
<line x1="2191" y1="1173" x2="2191" y2="1803" stroke="#000" stroke-width="2.5" stroke-linecap="butt" />
<line x1="2181" y1="1173.8" x2="2192.25" y2="1173.8" stroke="#000" stroke-width="2.5" stroke-linecap="butt" />
<line x1="2181" y1="1383.2" x2="2192.25" y2="1383.2" stroke="#000" stroke-width="2.5" stroke-linecap="butt" />
<line x1="2181" y1="1592.6" x2="2192.25" y2="1592.6" stroke="#000" stroke-width="2.5" stroke-linecap="butt" />
<line x1="2181" y1="1802.0" x2="2192.25" y2="1802.0" stroke="#000" stroke-width="2.5" stroke-linecap="butt" />
<line x1="2185" y1="1278.5" x2="2192.25" y2="1278.5" stroke="#000" stroke-width="2.5" stroke-linecap="butt" />
<line x1="2185" y1="1487.9" x2="2192.25" y2="1487.9" stroke="#000" stroke-width="2.5" stroke-linecap="butt" />
<line x1="2185" y1="1697.3" x2="2192.25" y2="1697.3" stroke="#000" stroke-width="2.5" stroke-linecap="butt" />
<text x="2173" y="1192.3" font-size="52" text-anchor="end" fill="#000" >6</text>
<text x="2173" y="1401.7" font-size="52" text-anchor="end" fill="#000" >4</text>
<text x="2173" y="1611.1" font-size="52" text-anchor="end" fill="#000" >2</text>
<text x="2173" y="1820.5" font-size="52" text-anchor="end" fill="#000" >0</text>
<text x="0" y="0" font-size="53" text-anchor="middle" fill="#000" transform="translate(2129,1469) rotate(-90)">Pauses frequency /10s</text>
<line x1="2505.5" y1="1169" x2="2505.5" y2="1807" stroke="#000" stroke-width="2" stroke-linecap="butt" stroke-dasharray="2.5,3.5"/>
<line x1="2287.0" y1="1186" x2="2287.0" y2="1431" stroke="#000" stroke-width="5.8" stroke-linecap="butt" />
<line x1="2287.0" y1="1765" x2="2287.0" y2="1802" stroke="#000" stroke-width="5.8" stroke-linecap="butt" />
<line x1="2262.0" y1="1186" x2="2312.0" y2="1186" stroke="#000" stroke-width="5.8" stroke-linecap="round" />
<line x1="2262.0" y1="1802" x2="2312.0" y2="1802" stroke="#000" stroke-width="5.8" stroke-linecap="round" />
<rect x="2242.0" y="1434.0" width="90" height="328" fill="#718c3a" stroke="#000" stroke-width="6" />
<line x1="2242.0" y1="1622" x2="2332.0" y2="1622" stroke="#000" stroke-width="6" stroke-linecap="butt" />
<line x1="2432.5" y1="1268.5" x2="2432.5" y2="1449" stroke="#000" stroke-width="5.8" stroke-linecap="butt" />
<line x1="2432.5" y1="1591" x2="2432.5" y2="1802" stroke="#000" stroke-width="5.8" stroke-linecap="butt" />
<line x1="2407.5" y1="1268.5" x2="2457.5" y2="1268.5" stroke="#000" stroke-width="5.8" stroke-linecap="round" />
<line x1="2407.5" y1="1802" x2="2457.5" y2="1802" stroke="#000" stroke-width="5.8" stroke-linecap="round" />
<rect x="2388.0" y="1452.0" width="89" height="136" fill="#ff2d00" stroke="#000" stroke-width="6" />
<line x1="2388.0" y1="1513" x2="2477.0" y2="1513" stroke="#000" stroke-width="6" stroke-linecap="butt" />
<line x1="2578.0" y1="1260" x2="2578.0" y2="1469" stroke="#000" stroke-width="5.8" stroke-linecap="butt" />
<line x1="2578.0" y1="1630" x2="2578.0" y2="1802" stroke="#000" stroke-width="5.8" stroke-linecap="butt" />
<line x1="2553.0" y1="1260" x2="2603.0" y2="1260" stroke="#000" stroke-width="5.8" stroke-linecap="round" />
<line x1="2553.0" y1="1802" x2="2603.0" y2="1802" stroke="#000" stroke-width="5.8" stroke-linecap="round" />
<rect x="2533.0" y="1472.0" width="90" height="155" fill="#718c3a" stroke="#000" stroke-width="6" />
<line x1="2533.0" y1="1532" x2="2623.0" y2="1532" stroke="#000" stroke-width="6" stroke-linecap="butt" />
<line x1="2723.25" y1="1296" x2="2723.25" y2="1438" stroke="#000" stroke-width="5.8" stroke-linecap="butt" />
<line x1="2723.25" y1="1604" x2="2723.25" y2="1802" stroke="#000" stroke-width="5.8" stroke-linecap="butt" />
<line x1="2698.25" y1="1296" x2="2748.25" y2="1296" stroke="#000" stroke-width="5.8" stroke-linecap="round" />
<line x1="2698.25" y1="1802" x2="2748.25" y2="1802" stroke="#000" stroke-width="5.8" stroke-linecap="round" />
<rect x="2678.5" y="1441.0" width="89.5" height="160" fill="#ff2d00" stroke="#000" stroke-width="6" />
<line x1="2678.5" y1="1523.6" x2="2768.0" y2="1523.6" stroke="#000" stroke-width="6" stroke-linecap="butt" />
<rect x="2820.0" y="1236.0" width="176" height="89" fill="#fff" stroke="#000" stroke-width="4" />
<rect x="2831.5" y="1250.0" width="18.5" height="18.5" fill="#718c3a" stroke="#000" stroke-width="5" />
<rect x="2831.5" y="1294.5" width="18.5" height="18.5" fill="#ff2d00" stroke="#000" stroke-width="5" />
<text x="2861" y="1272" font-size="40" fill="#000" text-anchor="start">APP<tspan font-size="28">wt</tspan></text>
<text x="2861" y="1316" font-size="40" fill="#000" text-anchor="start">APP<tspan font-size="28">swe</tspan></text>
<rect x="2192.25" y="1814.25" width="627.5" height="56.0" fill="#fff" stroke="#000" stroke-width="2.5" />
<line x1="2505.5" y1="1813" x2="2505.5" y2="1871.5" stroke="#000" stroke-width="2.5" stroke-linecap="butt" />
<text x="2348.5" y="1856" font-size="51" text-anchor="middle" fill="#000">Anterograde</text>
<text x="2663" y="1856" font-size="51" text-anchor="middle" fill="#000">Retrograde</text>
<text x="0" y="2032" font-size="72" text-anchor="start" fill="#000" font-weight="bold" >E</text>
<path d="M358.4,2039.0L358.4,2009.0M345.4,2031.5L371.4,2016.5M345.4,2016.5L371.4,2031.5" stroke="#000" stroke-width="6" fill="none"/>
<path d="M391.0,2039.0L391.0,2009.0M378.0,2031.5L404.0,2016.5M378.0,2016.5L404.0,2031.5" stroke="#000" stroke-width="6" fill="none"/>
<path d="M423.6,2039.0L423.6,2009.0M410.6,2031.5L436.6,2016.5M410.6,2016.5L436.6,2031.5" stroke="#000" stroke-width="6" fill="none"/>
<line x1="298" y1="2053" x2="485" y2="2053" stroke="#000" stroke-width="2" stroke-linecap="butt" />
<line x1="175" y1="2101" x2="175" y2="2754" stroke="#000" stroke-width="2.5" stroke-linecap="butt" />
<line x1="165" y1="2102.2" x2="176.25" y2="2102.2" stroke="#000" stroke-width="2.5" stroke-linecap="butt" />
<line x1="165" y1="2255.4" x2="176.25" y2="2255.4" stroke="#000" stroke-width="2.5" stroke-linecap="butt" />
<line x1="165" y1="2408.6" x2="176.25" y2="2408.6" stroke="#000" stroke-width="2.5" stroke-linecap="butt" />
<line x1="165" y1="2561.8" x2="176.25" y2="2561.8" stroke="#000" stroke-width="2.5" stroke-linecap="butt" />
<line x1="165" y1="2715.0" x2="176.25" y2="2715.0" stroke="#000" stroke-width="2.5" stroke-linecap="butt" />
<line x1="169" y1="2178.8" x2="176.25" y2="2178.8" stroke="#000" stroke-width="2.5" stroke-linecap="butt" />
<line x1="169" y1="2332.0" x2="176.25" y2="2332.0" stroke="#000" stroke-width="2.5" stroke-linecap="butt" />
<line x1="169" y1="2485.2" x2="176.25" y2="2485.2" stroke="#000" stroke-width="2.5" stroke-linecap="butt" />
<line x1="169" y1="2638.4" x2="176.25" y2="2638.4" stroke="#000" stroke-width="2.5" stroke-linecap="butt" />
<text x="154" y="2120.7" font-size="52" text-anchor="end" fill="#000" >8</text>
<text x="154" y="2273.9" font-size="52" text-anchor="end" fill="#000" >6</text>
<text x="154" y="2427.1" font-size="52" text-anchor="end" fill="#000" >4</text>
<text x="154" y="2580.3" font-size="52" text-anchor="end" fill="#000" >2</text>
<text x="154" y="2733.5" font-size="52" text-anchor="end" fill="#000" >0</text>
<text x="0" y="0" font-size="49.5" text-anchor="middle" fill="#000" transform="translate(75.8,2389) rotate(-90)">Reversions frequency/10s</text>
<line x1="299.0" y1="2326" x2="299.0" y2="2511" stroke="#000" stroke-width="5.8" stroke-linecap="butt" />
<line x1="299.0" y1="2647" x2="299.0" y2="2715" stroke="#000" stroke-width="5.8" stroke-linecap="butt" />
<line x1="268.0" y1="2326" x2="330.0" y2="2326" stroke="#000" stroke-width="5.8" stroke-linecap="round" />
<line x1="268.0" y1="2715" x2="330.0" y2="2715" stroke="#000" stroke-width="5.8" stroke-linecap="round" />
<rect x="241.0" y="2514.0" width="116" height="130" fill="#718c3a" stroke="#000" stroke-width="6" />
<line x1="241.0" y1="2586" x2="357.0" y2="2586" stroke="#000" stroke-width="6" stroke-linecap="butt" />
<line x1="484.5" y1="2141" x2="484.5" y2="2350" stroke="#000" stroke-width="5.8" stroke-linecap="butt" />
<line x1="484.5" y1="2503" x2="484.5" y2="2715" stroke="#000" stroke-width="5.8" stroke-linecap="butt" />
<line x1="453.5" y1="2141" x2="515.5" y2="2141" stroke="#000" stroke-width="5.8" stroke-linecap="round" />
<line x1="453.5" y1="2715" x2="515.5" y2="2715" stroke="#000" stroke-width="5.8" stroke-linecap="round" />
<rect x="426.0" y="2353.0" width="117" height="147" fill="#ff2d00" stroke="#000" stroke-width="6" />
<line x1="426.0" y1="2421" x2="543.0" y2="2421" stroke="#000" stroke-width="6" stroke-linecap="butt" />
<circle cx="298" cy="2280" r="4" fill="#fff" stroke="#000" stroke-width="2.2"/>
<rect x="175.25" y="2762.25" width="432.5" height="56.5" fill="#fff" stroke="#000" stroke-width="2.5" />
<line x1="391" y1="2761" x2="391" y2="2820" stroke="#000" stroke-width="2.5" stroke-linecap="butt" />
<text x="275" y="2811" font-size="52" fill="#718c3a" text-anchor="middle">APP<tspan font-size="39">wt</tspan></text>
<text x="499" y="2811" font-size="52" fill="#ff2d00" text-anchor="middle">APP<tspan font-size="39">swe</tspan></text>
<text x="687" y="2032" font-size="72" text-anchor="start" fill="#000" font-weight="bold" >F</text>
<rect x="883.5" y="2003.5" width="911" height="60.5" fill="#fff" stroke="#000" stroke-width="3" />
<text x="1339.0" y="2049.5" font-size="50.5" text-anchor="middle" fill="#000" >Anterograde</text>
<rect x="882" y="2070" width="914" height="608.5" fill="#e8e8e8" stroke="none" stroke-width="0" />
<line x1="882" y1="2070" x2="1796" y2="2070" stroke="#000" stroke-width="3.5" stroke-linecap="butt" />
<line x1="1796" y1="2070" x2="1796" y2="2686.5" stroke="#000" stroke-width="3" stroke-linecap="butt" />
<line x1="883.5" y1="2070" x2="883.5" y2="2678.5" stroke="#000" stroke-width="3" stroke-linecap="butt" />
<line x1="882" y1="2678.5" x2="1797.5" y2="2678.5" stroke="#000" stroke-width="3.5" stroke-linecap="butt" />
<line x1="877" y1="2627.7916666666665" x2="883" y2="2627.7916666666665" stroke="#000" stroke-width="3" stroke-linecap="butt" />
<line x1="874" y1="2577.0833333333335" x2="883" y2="2577.0833333333335" stroke="#000" stroke-width="3" stroke-linecap="butt" />
<text x="864.5" y="2595.5833333333335" font-size="54" text-anchor="end" fill="#000" >20</text>
<line x1="877" y1="2526.375" x2="883" y2="2526.375" stroke="#000" stroke-width="3" stroke-linecap="butt" />
<line x1="874" y1="2475.6666666666665" x2="883" y2="2475.6666666666665" stroke="#000" stroke-width="3" stroke-linecap="butt" />
<text x="864.5" y="2494.1666666666665" font-size="54" text-anchor="end" fill="#000" >40</text>
<line x1="877" y1="2424.9583333333335" x2="883" y2="2424.9583333333335" stroke="#000" stroke-width="3" stroke-linecap="butt" />
<line x1="874" y1="2374.25" x2="883" y2="2374.25" stroke="#000" stroke-width="3" stroke-linecap="butt" />
<text x="864.5" y="2392.75" font-size="54" text-anchor="end" fill="#000" >60</text>
<line x1="877" y1="2323.5416666666665" x2="883" y2="2323.5416666666665" stroke="#000" stroke-width="3" stroke-linecap="butt" />
<line x1="874" y1="2272.8333333333335" x2="883" y2="2272.8333333333335" stroke="#000" stroke-width="3" stroke-linecap="butt" />
<text x="864.5" y="2291.3333333333335" font-size="54" text-anchor="end" fill="#000" >80</text>
<line x1="877" y1="2222.125" x2="883" y2="2222.125" stroke="#000" stroke-width="3" stroke-linecap="butt" />
<line x1="874" y1="2171.4166666666665" x2="883" y2="2171.4166666666665" stroke="#000" stroke-width="3" stroke-linecap="butt" />
<text x="864.5" y="2189.9166666666665" font-size="54" text-anchor="end" fill="#000" >100</text>
<line x1="877" y1="2120.708333333333" x2="883" y2="2120.708333333333" stroke="#000" stroke-width="3" stroke-linecap="butt" />
<line x1="874" y1="2070.0" x2="883" y2="2070.0" stroke="#000" stroke-width="3" stroke-linecap="butt" />
<text x="864.5" y="2088.5" font-size="54" text-anchor="end" fill="#000" >120</text>
<line x1="918.6" y1="2678.5" x2="918.6" y2="2687.5" stroke="#000" stroke-width="3" stroke-linecap="butt" />
<line x1="1006.25" y1="2678.5" x2="1006.25" y2="2684.5" stroke="#000" stroke-width="3" stroke-linecap="butt" />
<line x1="1093.9" y1="2678.5" x2="1093.9" y2="2687.5" stroke="#000" stroke-width="3" stroke-linecap="butt" />
<text x="1093.9" y="2743.5" font-size="50" text-anchor="middle" fill="#000" >1.0</text>
<line x1="1181.5500000000002" y1="2678.5" x2="1181.5500000000002" y2="2684.5" stroke="#000" stroke-width="3" stroke-linecap="butt" />
<line x1="1269.2" y1="2678.5" x2="1269.2" y2="2687.5" stroke="#000" stroke-width="3" stroke-linecap="butt" />
<text x="1269.2" y="2743.5" font-size="50" text-anchor="middle" fill="#000" >1.5</text>
<line x1="1356.85" y1="2678.5" x2="1356.85" y2="2684.5" stroke="#000" stroke-width="3" stroke-linecap="butt" />
<line x1="1444.5" y1="2678.5" x2="1444.5" y2="2687.5" stroke="#000" stroke-width="3" stroke-linecap="butt" />
<text x="1444.5" y="2743.5" font-size="50" text-anchor="middle" fill="#000" >2.0</text>
<line x1="1532.15" y1="2678.5" x2="1532.15" y2="2684.5" stroke="#000" stroke-width="3" stroke-linecap="butt" />
<line x1="1619.8000000000002" y1="2678.5" x2="1619.8000000000002" y2="2687.5" stroke="#000" stroke-width="3" stroke-linecap="butt" />
<text x="1619.8000000000002" y="2743.5" font-size="50" text-anchor="middle" fill="#000" >2.5</text>
<line x1="1707.45" y1="2678.5" x2="1707.45" y2="2684.5" stroke="#000" stroke-width="3" stroke-linecap="butt" />
<line x1="1795.1" y1="2678.5" x2="1795.1" y2="2687.5" stroke="#000" stroke-width="3" stroke-linecap="butt" />
<text x="1795.1" y="2743.5" font-size="50" text-anchor="middle" fill="#000" >3.0</text>
<line x1="918.6" y1="2073" x2="918.6" y2="2676.5" stroke="#e535b0" stroke-width="5.5" stroke-linecap="round" stroke-dasharray="0,11.1"/>
<polyline points="917.4,2677.0 919.6,2677.0 919.6,2666.8 920.6,2666.8 920.6,2657.0 924.4,2657.0 924.4,2647.5 925.8,2647.5 925.8,2635.7 927.1,2635.7 927.1,2625.5 932.0,2625.5 932.0,2616.6 937.8,2616.6 937.8,2610.0 945.0,2610.0 945.0,2601.2 950.7,2601.2 950.7,2591.3 955.2,2591.3 955.2,2583.6 961.9,2583.6 961.9,2575.5 967.9,2575.5 967.9,2565.0 972.9,2565.0 972.9,2557.7 978.3,2557.7 978.3,2547.9 983.9,2547.9 983.9,2539.0 991.9,2539.0 991.9,2533.2 997.8,2533.2 997.8,2524.2 1005.5,2524.2 1005.5,2517.2 1012.3,2517.2 1012.3,2510.2 1018.2,2510.2 1018.2,2501.5 1025.2,2501.5 1025.2,2493.8 1032.7,2493.8 1032.7,2487.8 1042.8,2487.8 1042.8,2481.4 1049.4,2481.4 1049.4,2477.1 1058.5,2477.1 1058.5,2471.1 1064.7,2471.1 1064.7,2462.1 1071.7,2462.1 1071.7,2453.3 1076.0,2453.3 1076.0,2444.8 1082.3,2444.8 1082.3,2436.5 1088.5,2436.5 1088.5,2430.6 1095.2,2430.6 1095.2,2423.1 1103.4,2423.1 1103.4,2415.0 1108.1,2415.0 1108.1,2408.3 1116.6,2408.3 1116.6,2402.3 1123.0,2402.3 1123.0,2395.9 1130.6,2395.9 1130.6,2390.6 1137.9,2390.6 1137.9,2385.5 1147.6,2385.5 1147.6,2380.4 1154.9,2380.4 1154.9,2374.8 1160.8,2374.8 1160.8,2367.5 1172.1,2367.5 1172.1,2366.7 1179.8,2366.7 1179.8,2365.1 1189.3,2365.1 1189.3,2362.8 1197.5,2362.8 1197.5,2359.3 1206.9,2359.3 1206.9,2357.1 1215.7,2357.1 1215.7,2357.1 1224.6,2357.1 1224.6,2352.8 1232.9,2352.8 1232.9,2351.2 1243.7,2351.2 1243.7,2349.7 1251.0,2349.7 1251.0,2343.9 1261.2,2343.9 1261.2,2339.5 1267.8,2339.5 1267.8,2333.4 1275.9,2333.4 1275.9,2328.5 1285.9,2328.5 1285.9,2323.3 1292.9,2323.3 1292.9,2319.0 1303.3,2319.0 1303.3,2318.9 1312.8,2318.9 1312.8,2316.5 1324.2,2316.5 1324.2,2314.9 1334.6,2314.9 1334.6,2313.8 1342.7,2313.8 1342.7,2312.4 1352.0,2312.4 1352.0,2311.1 1362.4,2311.1 1362.4,2310.9 1369.8,2310.9 1369.8,2301.5 1373.9,2301.5 1373.9,2292.4 1384.2,2292.4 1384.2,2290.7 1394.1,2290.7 1394.1,2290.7 1403.7,2290.7 1403.7,2287.2 1415.5,2287.2 1415.5,2286.9 1425.5,2286.9 1425.5,2284.9 1435.1,2284.9 1435.1,2283.9 1444.7,2283.9 1444.7,2282.6 1453.7,2282.6 1453.7,2280.5 1462.7,2280.5 1462.7,2281.9 1474.1,2281.9 1474.1,2281.5 1482.4,2281.5 1482.4,2280.4 1493.2,2280.4 1493.2,2279.8 1503.0,2279.8 1503.0,2279.1 1512.3,2279.1 1512.3,2278.9 1521.0,2278.9 1521.0,2279.0 1532.4,2279.0 1532.4,2276.5 1542.1,2276.5 1542.1,2278.1 1551.3,2278.1 1551.3,2273.7 1561.7,2273.7 1561.7,2271.7 1571.7,2271.7 1571.7,2270.8 1579.4,2270.8 1579.4,2267.3 1590.6,2267.3 1590.6,2266.1 1600.7,2266.1 1600.7,2264.7 1609.3,2264.7 1609.3,2260.3 1620.2,2260.3 1620.2,2259.2 1629.3,2259.2 1629.3,2258.4 1638.3,2258.4 1638.3,2258.9 1647.7,2258.9 1647.7,2257.2 1656.9,2257.2 1656.9,2255.3 1665.2,2255.3 1665.2,2253.3 1674.4,2253.3 1674.4,2252.2 1682.2,2252.2 1682.2,2249.3 1689.9,2249.3 1689.9,2245.9 1700.2,2245.9 1700.2,2245.0 1709.9,2245.0 1709.9,2243.3 1717.1,2243.3 1717.1,2240.7 1727.6,2240.7 1727.6,2239.1 1734.8,2239.1 1734.8,2237.8 1745.8,2237.8 1745.8,2234.0 1754.1,2234.0 1754.1,2232.7 1765.2,2232.7 1765.2,2231.0 1774.4,2231.0 1774.4,2230.0 1786.6,2230.0 1786.6,2227.5 1796.0,2227.5 1796.0,2227.0" fill="none" stroke="#6f8a38" stroke-width="11" stroke-linejoin="round" stroke-linecap="round" />
<polyline points="915.4,2678.1 918.7,2678.1 918.7,2667.2 922.3,2667.2 922.3,2655.0 923.8,2655.0 923.8,2645.8 926.4,2645.8 926.4,2635.4 930.2,2635.4 930.2,2626.9 931.8,2626.9 931.8,2617.9 933.3,2617.9 933.3,2608.2 936.2,2608.2 936.2,2601.2 938.7,2601.2 938.7,2592.2 941.9,2592.2 941.9,2582.0 945.0,2582.0 945.0,2574.6 946.7,2574.6 946.7,2564.5 950.9,2564.5 950.9,2556.9 953.7,2556.9 953.7,2549.0 957.0,2549.0 957.0,2540.2 959.4,2540.2 959.4,2531.1 962.8,2531.1 962.8,2522.5 967.0,2522.5 967.0,2511.6 968.5,2511.6 968.5,2503.0 973.7,2503.0 973.7,2494.6 976.1,2494.6 976.1,2485.4 979.0,2485.4 979.0,2476.7 981.9,2476.7 981.9,2468.2 985.8,2468.2 985.8,2460.0 989.3,2460.0 989.3,2451.0 993.0,2451.0 993.0,2442.2 995.8,2442.2 995.8,2431.2 999.6,2431.2 999.6,2424.1 1003.0,2424.1 1003.0,2414.2 1007.1,2414.2 1007.1,2404.1 1012.0,2404.1 1012.0,2395.8 1015.3,2395.8 1015.3,2385.4 1021.2,2385.4 1021.2,2378.4 1024.0,2378.4 1024.0,2368.7 1030.4,2368.7 1030.4,2359.2 1035.7,2359.2 1035.7,2352.6 1042.7,2352.6 1042.7,2342.9 1047.7,2342.9 1047.7,2334.9 1053.5,2334.9 1053.5,2327.6 1060.9,2327.6 1060.9,2321.0 1067.0,2321.0 1067.0,2312.8 1073.5,2312.8 1073.5,2302.4 1081.2,2302.4 1081.2,2294.1 1087.3,2294.1 1087.3,2286.8 1096.3,2286.8 1096.3,2280.6 1102.9,2280.6 1102.9,2276.7 1111.6,2276.7 1111.6,2271.3 1121.0,2271.3 1121.0,2264.3 1127.9,2264.3 1127.9,2259.0 1138.3,2259.0 1138.3,2254.7 1148.1,2254.7 1148.1,2250.3 1159.1,2250.3 1159.1,2245.5 1167.8,2245.5 1167.8,2241.5 1175.7,2241.5 1175.7,2236.5 1185.7,2236.5 1185.7,2233.1 1193.0,2233.1 1193.0,2227.8 1200.9,2227.8 1200.9,2225.2 1208.3,2225.2 1208.3,2221.3 1218.0,2221.3 1218.0,2215.9 1226.3,2215.9 1226.3,2212.9 1235.9,2212.9 1235.9,2210.6 1245.5,2210.6 1245.5,2209.6 1253.4,2209.6 1253.4,2205.9 1264.4,2205.9 1264.4,2206.1 1272.9,2206.1 1272.9,2202.9 1283.2,2202.9 1283.2,2200.6 1292.2,2200.6 1292.2,2199.6 1301.7,2199.6 1301.7,2199.2 1311.0,2199.2 1311.0,2197.7 1321.7,2197.7 1321.7,2195.9 1330.7,2195.9 1330.7,2196.6 1339.5,2196.6 1339.5,2194.3 1350.4,2194.3 1350.4,2193.8 1358.6,2193.8 1358.6,2193.7 1369.5,2193.7 1369.5,2192.4 1378.2,2192.4 1378.2,2192.4 1389.1,2192.4 1389.1,2192.1 1398.9,2192.1 1398.9,2190.9 1407.3,2190.9 1407.3,2191.5 1418.3,2191.5 1418.3,2190.4 1426.3,2190.4 1426.3,2189.1 1437.8,2189.1 1437.8,2187.3 1449.2,2187.3 1449.2,2186.8 1458.5,2186.8 1458.5,2183.5 1470.7,2183.5 1470.7,2182.3 1480.0,2182.3 1480.0,2179.9 1487.6,2179.9 1487.6,2178.0 1498.5,2178.0 1498.5,2176.2 1506.6,2176.2 1506.6,2174.8 1516.1,2174.8 1516.1,2174.7 1526.6,2174.7 1526.6,2174.0 1533.7,2174.0 1533.7,2175.8 1545.1,2175.8 1545.1,2175.8 1553.3,2175.8 1553.3,2175.6 1563.8,2175.6 1563.8,2173.7 1572.7,2173.7 1572.7,2175.1 1581.8,2175.1 1581.8,2174.2 1590.2,2174.2 1590.2,2173.7 1599.3,2173.7 1599.3,2173.0 1609.5,2173.0 1609.5,2173.5 1619.4,2173.5 1619.4,2172.9 1629.0,2172.9 1629.0,2174.5 1638.4,2174.5 1638.4,2175.0 1647.6,2175.0 1647.6,2174.2 1654.8,2174.2 1654.8,2174.6 1664.5,2174.6 1664.5,2173.5 1675.1,2173.5 1675.1,2174.1 1683.8,2174.1 1683.8,2175.1 1693.6,2175.1 1693.6,2173.6 1702.1,2173.6 1702.1,2174.9 1711.9,2174.9 1711.9,2174.7 1721.0,2174.7 1721.0,2173.3 1730.7,2173.3 1730.7,2174.8 1739.2,2174.8 1739.2,2174.7 1750.3,2174.7 1750.3,2174.7 1759.4,2174.7 1759.4,2172.8 1768.3,2172.8 1768.3,2174.9 1776.3,2174.9 1776.3,2173.5 1786.1,2173.5 1786.1,2174.1 1796.0,2174.1 1796.0,2174.0" fill="none" stroke="#ff3000" stroke-width="11" stroke-linejoin="round" stroke-linecap="round" />
<line x1="954.5" y1="2113.5" x2="1028.5" y2="2113.5" stroke="#6f8a38" stroke-width="11.5" stroke-linecap="round" />
<line x1="954.5" y1="2164.5" x2="1028.5" y2="2164.5" stroke="#ff3000" stroke-width="11.5" stroke-linecap="round" />
<text x="1061.5" y="2131.0" font-size="44" fill="#000" text-anchor="start">APP<tspan font-size="30">wt</tspan></text>
<text x="1061.5" y="2181.5" font-size="44" fill="#000" text-anchor="start">APP<tspan font-size="30">swe</tspan></text>
<text x="822.6" y="2741.5" font-size="42.5" fill="#e535b0">&gt;<tspan dx="8">0.5</tspan><tspan dx="8" font-style="italic">μ</tspan>m/s</text>
<rect x="1481.15" y="2289.65" width="302.2" height="380.2" fill="#fff" stroke="#000" stroke-width="4.3" />
<path d="M1652.0,2318.5L1652.0,2304.5M1645.9,2315.0L1658.1,2308.0M1645.9,2308.0L1658.1,2315.0" stroke="#000" stroke-width="3" fill="none"/>
<path d="M1667.0,2318.5L1667.0,2304.5M1660.9,2315.0L1673.1,2308.0M1660.9,2308.0L1673.1,2315.0" stroke="#000" stroke-width="3" fill="none"/>
<path d="M1682.0,2318.5L1682.0,2304.5M1675.9,2315.0L1688.1,2308.0M1675.9,2308.0L1688.1,2315.0" stroke="#000" stroke-width="3" fill="none"/>
<line x1="1624" y1="2324.8" x2="1710.5" y2="2324.8" stroke="#555" stroke-width="1.2" stroke-linecap="butt" />
<line x1="1567" y1="2353.5" x2="1567" y2="2655" stroke="#000" stroke-width="1.5" stroke-linecap="butt" />
<line x1="1562" y1="2402.6" x2="1567" y2="2402.6" stroke="#000" stroke-width="1.5" stroke-linecap="butt" />
<line x1="1562" y1="2499.8" x2="1567" y2="2499.8" stroke="#000" stroke-width="1.5" stroke-linecap="butt" />
<line x1="1562" y1="2597.0" x2="1567" y2="2597.0" stroke="#000" stroke-width="1.5" stroke-linecap="butt" />
<line x1="1562" y1="2645.6" x2="1567" y2="2645.6" stroke="#000" stroke-width="1.5" stroke-linecap="butt" />
<line x1="1563.5" y1="2354.0" x2="1567" y2="2354.0" stroke="#000" stroke-width="1.5" stroke-linecap="butt" />
<line x1="1563.5" y1="2451.2" x2="1567" y2="2451.2" stroke="#000" stroke-width="1.5" stroke-linecap="butt" />
<line x1="1563.5" y1="2548.4" x2="1567" y2="2548.4" stroke="#000" stroke-width="1.5" stroke-linecap="butt" />
<text x="1558" y="2410.2999999999997" font-size="22" text-anchor="end" fill="#000" >3</text>
<text x="1558" y="2507.5" font-size="22" text-anchor="end" fill="#000" >2</text>
<text x="1558" y="2604.7" font-size="22" text-anchor="end" fill="#000" >1</text>
<text x="1558" y="2653.2999999999997" font-size="22" text-anchor="end" fill="#000" >0.5</text>
<text x="0" y="0" font-size="24.3" text-anchor="middle" fill="#000" transform="translate(1527.6,2497) rotate(-90)">Velocity (μm/s)</text>
<line x1="1570" y1="2645.6" x2="1768.5" y2="2645.6" stroke="#e535b0" stroke-width="3" stroke-linecap="round" stroke-dasharray="0,6.5"/>
<line x1="1624.0" y1="2358.5" x2="1624.0" y2="2521" stroke="#000" stroke-width="2.6" stroke-linecap="butt" />
<line x1="1624.0" y1="2628.6" x2="1624.0" y2="2645.2" stroke="#000" stroke-width="2.6" stroke-linecap="butt" />
<line x1="1608.5" y1="2358.5" x2="1639.5" y2="2358.5" stroke="#000" stroke-width="2.6" stroke-linecap="round" />
<line x1="1608.5" y1="2645.2" x2="1639.5" y2="2645.2" stroke="#000" stroke-width="2.6" stroke-linecap="round" />
<rect x="1597.7" y="2522.3" width="52.59999999999982" height="104.99999999999991" fill="#b8c69c" stroke="#000" stroke-width="2.6" />
<line x1="1597.7" y1="2595" x2="1650.3" y2="2595" stroke="#000" stroke-width="2.6" stroke-linecap="butt" />
<line x1="1710.1999999999998" y1="2545.4" x2="1710.1999999999998" y2="2600.4" stroke="#000" stroke-width="2.6" stroke-linecap="butt" />
<line x1="1710.1999999999998" y1="2634" x2="1710.1999999999998" y2="2645.2" stroke="#000" stroke-width="2.6" stroke-linecap="butt" />
<line x1="1695.1999999999998" y1="2545.4" x2="1725.1999999999998" y2="2545.4" stroke="#000" stroke-width="2.6" stroke-linecap="round" />
<line x1="1695.1999999999998" y1="2645.2" x2="1725.1999999999998" y2="2645.2" stroke="#000" stroke-width="2.6" stroke-linecap="round" />
<rect x="1684.1" y="2601.7000000000003" width="52.19999999999995" height="30.999999999999908" fill="#ff9a80" stroke="#000" stroke-width="2.6" />
<line x1="1684.1" y1="2620.7" x2="1736.3" y2="2620.7" stroke="#000" stroke-width="2.6" stroke-linecap="butt" />
<circle cx="1624" cy="2354.6" r="1.8" fill="#fff" stroke="#000" stroke-width="1"/>
<circle cx="1710.3" cy="2412" r="1.9" fill="#fff" stroke="#000" stroke-width="1.1"/>
<circle cx="1710.3" cy="2471" r="1.9" fill="#fff" stroke="#000" stroke-width="1.1"/>
<circle cx="1710.3" cy="2483" r="1.9" fill="#fff" stroke="#000" stroke-width="1.1"/>
<circle cx="1710.3" cy="2488" r="1.9" fill="#fff" stroke="#000" stroke-width="1.1"/>
<circle cx="1710.3" cy="2492" r="1.9" fill="#fff" stroke="#000" stroke-width="1.1"/>
<circle cx="1710.3" cy="2496" r="1.9" fill="#fff" stroke="#000" stroke-width="1.1"/>
<circle cx="1710.3" cy="2500" r="1.9" fill="#fff" stroke="#000" stroke-width="1.1"/>
<circle cx="1710.3" cy="2503" r="1.9" fill="#fff" stroke="#000" stroke-width="1.1"/>
<circle cx="1710.3" cy="2507" r="1.9" fill="#fff" stroke="#000" stroke-width="1.1"/>
<circle cx="1710.3" cy="2511" r="1.9" fill="#fff" stroke="#000" stroke-width="1.1"/>
<circle cx="1710.3" cy="2517" r="1.9" fill="#fff" stroke="#000" stroke-width="1.1"/>
<circle cx="1710.3" cy="2523" r="1.9" fill="#fff" stroke="#000" stroke-width="1.1"/>
<circle cx="1710.3" cy="2528" r="1.9" fill="#fff" stroke="#000" stroke-width="1.1"/>
<circle cx="1710.3" cy="2531" r="1.9" fill="#fff" stroke="#000" stroke-width="1.1"/>
<rect x="1928.5" y="2005.5" width="908" height="60" fill="#fff" stroke="#000" stroke-width="3" />
<text x="2382.5" y="2051" font-size="50.5" text-anchor="middle" fill="#000" >Retrograde</text>
<rect x="1927" y="2072" width="911" height="607" fill="#e8e8e8" stroke="none" stroke-width="0" />
<line x1="1927" y1="2072" x2="2838" y2="2072" stroke="#000" stroke-width="3.5" stroke-linecap="butt" />
<line x1="2838" y1="2072" x2="2838" y2="2687" stroke="#000" stroke-width="3" stroke-linecap="butt" />
<line x1="1928.5" y1="2072" x2="1928.5" y2="2679" stroke="#000" stroke-width="3" stroke-linecap="butt" />
<line x1="1927" y1="2679" x2="2839.5" y2="2679" stroke="#000" stroke-width="3.5" stroke-linecap="butt" />
<line x1="1922" y1="2628.4166666666665" x2="1928" y2="2628.4166666666665" stroke="#000" stroke-width="3" stroke-linecap="butt" />
<line x1="1919" y1="2577.8333333333335" x2="1928" y2="2577.8333333333335" stroke="#000" stroke-width="3" stroke-linecap="butt" />
<text x="1909.5" y="2596.3333333333335" font-size="54" text-anchor="end" fill="#000" >20</text>
<line x1="1922" y1="2527.25" x2="1928" y2="2527.25" stroke="#000" stroke-width="3" stroke-linecap="butt" />
<line x1="1919" y1="2476.6666666666665" x2="1928" y2="2476.6666666666665" stroke="#000" stroke-width="3" stroke-linecap="butt" />
<text x="1909.5" y="2495.1666666666665" font-size="54" text-anchor="end" fill="#000" >40</text>
<line x1="1922" y1="2426.0833333333335" x2="1928" y2="2426.0833333333335" stroke="#000" stroke-width="3" stroke-linecap="butt" />
<line x1="1919" y1="2375.5" x2="1928" y2="2375.5" stroke="#000" stroke-width="3" stroke-linecap="butt" />
<text x="1909.5" y="2394.0" font-size="54" text-anchor="end" fill="#000" >60</text>
<line x1="1922" y1="2324.9166666666665" x2="1928" y2="2324.9166666666665" stroke="#000" stroke-width="3" stroke-linecap="butt" />
<line x1="1919" y1="2274.3333333333335" x2="1928" y2="2274.3333333333335" stroke="#000" stroke-width="3" stroke-linecap="butt" />
<text x="1909.5" y="2292.8333333333335" font-size="54" text-anchor="end" fill="#000" >80</text>
<line x1="1922" y1="2223.75" x2="1928" y2="2223.75" stroke="#000" stroke-width="3" stroke-linecap="butt" />
<line x1="1919" y1="2173.1666666666665" x2="1928" y2="2173.1666666666665" stroke="#000" stroke-width="3" stroke-linecap="butt" />
<text x="1909.5" y="2191.6666666666665" font-size="54" text-anchor="end" fill="#000" >100</text>
<line x1="1922" y1="2122.583333333333" x2="1928" y2="2122.583333333333" stroke="#000" stroke-width="3" stroke-linecap="butt" />
<line x1="1919" y1="2072.0" x2="1928" y2="2072.0" stroke="#000" stroke-width="3" stroke-linecap="butt" />
<text x="1909.5" y="2090.5" font-size="54" text-anchor="end" fill="#000" >120</text>
<line x1="1962.0" y1="2679" x2="1962.0" y2="2688" stroke="#000" stroke-width="3" stroke-linecap="butt" />
<line x1="2049.6" y1="2679" x2="2049.6" y2="2685" stroke="#000" stroke-width="3" stroke-linecap="butt" />
<line x1="2137.2" y1="2679" x2="2137.2" y2="2688" stroke="#000" stroke-width="3" stroke-linecap="butt" />
<text x="2137.2" y="2743.5" font-size="50" text-anchor="middle" fill="#000" >1.0</text>
<line x1="2224.8" y1="2679" x2="2224.8" y2="2685" stroke="#000" stroke-width="3" stroke-linecap="butt" />
<line x1="2312.4" y1="2679" x2="2312.4" y2="2688" stroke="#000" stroke-width="3" stroke-linecap="butt" />
<text x="2312.4" y="2743.5" font-size="50" text-anchor="middle" fill="#000" >1.5</text>
<line x1="2400.0" y1="2679" x2="2400.0" y2="2685" stroke="#000" stroke-width="3" stroke-linecap="butt" />
<line x1="2487.6" y1="2679" x2="2487.6" y2="2688" stroke="#000" stroke-width="3" stroke-linecap="butt" />
<text x="2487.6" y="2743.5" font-size="50" text-anchor="middle" fill="#000" >2.0</text>
<line x1="2575.2" y1="2679" x2="2575.2" y2="2685" stroke="#000" stroke-width="3" stroke-linecap="butt" />
<line x1="2662.8" y1="2679" x2="2662.8" y2="2688" stroke="#000" stroke-width="3" stroke-linecap="butt" />
<text x="2662.8" y="2743.5" font-size="50" text-anchor="middle" fill="#000" >2.5</text>
<line x1="2750.4" y1="2679" x2="2750.4" y2="2685" stroke="#000" stroke-width="3" stroke-linecap="butt" />
<line x1="2838.0" y1="2679" x2="2838.0" y2="2688" stroke="#000" stroke-width="3" stroke-linecap="butt" />
<text x="2838.0" y="2743.5" font-size="50" text-anchor="middle" fill="#000" >3.0</text>
<line x1="1962" y1="2075" x2="1962" y2="2677" stroke="#e535b0" stroke-width="5.5" stroke-linecap="round" stroke-dasharray="0,11.1"/>
<polyline points="1962.7,2679.8 1965.8,2679.8 1965.8,2670.0 1968.4,2670.0 1968.4,2662.6 1973.3,2662.6 1973.3,2654.4 1976.9,2654.4 1976.9,2646.0 1980.5,2646.0 1980.5,2637.7 1985.7,2637.7 1985.7,2628.8 1989.4,2628.8 1989.4,2621.4 1992.8,2621.4 1992.8,2613.1 1998.4,2613.1 1998.4,2604.4 2002.6,2604.4 2002.6,2597.4 2006.8,2597.4 2006.8,2588.6 2009.0,2588.6 2009.0,2580.6 2014.7,2580.6 2014.7,2570.5 2017.0,2570.5 2017.0,2560.8 2022.3,2560.8 2022.3,2551.8 2027.1,2551.8 2027.1,2543.4 2029.3,2543.4 2029.3,2534.4 2035.7,2534.4 2035.7,2527.8 2043.0,2527.8 2043.0,2519.6 2048.3,2519.6 2048.3,2512.9 2054.7,2512.9 2054.7,2506.3 2058.9,2506.3 2058.9,2497.7 2067.2,2497.7 2067.2,2490.5 2074.2,2490.5 2074.2,2483.0 2081.9,2483.0 2081.9,2477.1 2087.1,2477.1 2087.1,2470.4 2094.5,2470.4 2094.5,2462.3 2102.0,2462.3 2102.0,2455.1 2108.1,2455.1 2108.1,2450.8 2116.0,2450.8 2116.0,2442.6 2123.0,2442.6 2123.0,2436.5 2128.7,2436.5 2128.7,2432.5 2136.2,2432.5 2136.2,2425.0 2142.4,2425.0 2142.4,2419.1 2148.5,2419.1 2148.5,2414.4 2155.2,2414.4 2155.2,2406.9 2163.6,2406.9 2163.6,2400.8 2172.2,2400.8 2172.2,2394.4 2180.2,2394.4 2180.2,2389.9 2187.4,2389.9 2187.4,2383.9 2194.9,2383.9 2194.9,2377.8 2203.7,2377.8 2203.7,2371.0 2210.9,2371.0 2210.9,2365.5 2219.2,2365.5 2219.2,2357.4 2228.4,2357.4 2228.4,2351.2 2236.2,2351.2 2236.2,2345.9 2243.8,2345.9 2243.8,2337.5 2252.1,2337.5 2252.1,2332.2 2262.5,2332.2 2262.5,2327.2 2272.5,2327.2 2272.5,2324.6 2281.8,2324.6 2281.8,2319.2 2293.1,2319.2 2293.1,2315.5 2301.4,2315.5 2301.4,2310.9 2310.7,2310.9 2310.7,2307.9 2319.2,2307.9 2319.2,2306.0 2328.9,2306.0 2328.9,2303.8 2337.3,2303.8 2337.3,2303.0 2346.7,2303.0 2346.7,2299.3 2354.6,2299.3 2354.6,2296.9 2362.8,2296.9 2362.8,2295.1 2372.5,2295.1 2372.5,2293.9 2380.0,2293.9 2380.0,2289.4 2389.2,2289.4 2389.2,2287.2 2396.9,2287.2 2396.9,2286.7 2405.4,2286.7 2405.4,2280.5 2414.3,2280.5 2414.3,2275.1 2423.8,2275.1 2423.8,2266.9 2431.3,2266.9 2431.3,2267.6 2441.3,2267.6 2441.3,2264.8 2450.7,2264.8 2450.7,2264.3 2459.0,2264.3 2459.0,2261.9 2467.0,2261.9 2467.0,2260.2 2476.1,2260.2 2476.1,2259.3 2486.3,2259.3 2486.3,2256.6 2495.3,2256.6 2495.3,2255.0 2501.6,2255.0 2501.6,2251.1 2509.9,2251.1 2509.9,2246.5 2517.8,2246.5 2517.8,2240.7 2524.1,2240.7 2524.1,2235.8 2533.8,2235.8 2533.8,2234.1 2545.6,2234.1 2545.6,2233.6 2555.3,2233.6 2555.3,2231.3 2564.7,2231.3 2564.7,2230.9 2573.1,2230.9 2573.1,2230.1 2585.0,2230.1 2585.0,2222.9 2594.7,2222.9 2594.7,2216.9 2603.5,2216.9 2603.5,2211.5 2612.3,2211.5 2612.3,2210.1 2623.9,2210.1 2623.9,2207.2 2633.1,2207.2 2633.1,2205.1 2642.3,2205.1 2642.3,2203.9 2651.9,2203.9 2651.9,2202.7 2661.2,2202.7 2661.2,2200.1 2668.6,2200.1 2668.6,2200.3 2679.2,2200.3 2679.2,2198.0 2687.2,2198.0 2687.2,2195.5 2697.3,2195.5 2697.3,2193.6 2708.2,2193.6 2708.2,2193.6 2717.1,2193.6 2717.1,2192.9 2724.6,2192.9 2724.6,2190.8 2734.6,2190.8 2734.6,2190.3 2743.1,2190.3 2743.1,2190.5 2752.0,2190.5 2752.0,2189.0 2760.0,2189.0 2760.0,2189.4 2768.9,2189.4 2768.9,2188.9 2778.2,2188.9 2778.2,2187.7 2787.2,2187.7 2787.2,2187.8 2796.7,2187.8 2796.7,2186.3 2808.3,2186.3 2808.3,2180.2 2819.7,2180.2 2819.7,2180.1 2827.5,2180.1 2827.5,2180.2 2838.0,2180.2 2838.0,2181.0" fill="none" stroke="#6f8a38" stroke-width="11" stroke-linejoin="round" stroke-linecap="round" />
<polyline points="1962.3,2679.6 1966.0,2679.6 1966.0,2669.6 1969.1,2669.6 1969.1,2659.0 1970.6,2659.0 1970.6,2647.4 1976.1,2647.4 1976.1,2637.4 1979.0,2637.4 1979.0,2626.1 1980.9,2626.1 1980.9,2616.4 1984.1,2616.4 1984.1,2607.2 1985.8,2607.2 1985.8,2596.3 1989.5,2596.3 1989.5,2588.0 1993.6,2588.0 1993.6,2576.2 1996.5,2576.2 1996.5,2566.6 1998.8,2566.6 1998.8,2557.1 2000.1,2557.1 2000.1,2549.4 2003.3,2549.4 2003.3,2538.3 2007.9,2538.3 2007.9,2530.4 2009.0,2530.4 2009.0,2521.1 2012.3,2521.1 2012.3,2510.9 2014.3,2510.9 2014.3,2502.1 2023.0,2502.1 2023.0,2491.6 2030.9,2491.6 2030.9,2479.5 2033.1,2479.5 2033.1,2470.5 2036.0,2470.5 2036.0,2461.5 2039.8,2461.5 2039.8,2454.1 2042.5,2454.1 2042.5,2445.6 2046.8,2445.6 2046.8,2436.0 2051.3,2436.0 2051.3,2427.7 2053.6,2427.7 2053.6,2419.0 2060.5,2419.0 2060.5,2408.9 2067.1,2408.9 2067.1,2399.9 2072.6,2399.9 2072.6,2392.8 2076.8,2392.8 2076.8,2383.7 2083.7,2383.7 2083.7,2373.2 2088.8,2373.2 2088.8,2361.9 2095.2,2361.9 2095.2,2354.1 2101.3,2354.1 2101.3,2346.1 2109.0,2346.1 2109.0,2339.1 2113.6,2339.1 2113.6,2330.2 2120.1,2330.2 2120.1,2323.7 2126.2,2323.7 2126.2,2317.4 2135.0,2317.4 2135.0,2311.5 2140.4,2311.5 2140.4,2305.6 2147.7,2305.6 2147.7,2298.0 2156.1,2298.0 2156.1,2293.2 2162.6,2293.2 2162.6,2287.0 2171.7,2287.0 2171.7,2280.4 2179.7,2280.4 2179.7,2274.9 2187.7,2274.9 2187.7,2269.7 2197.7,2269.7 2197.7,2266.6 2205.0,2266.6 2205.0,2259.2 2215.6,2259.2 2215.6,2255.2 2222.8,2255.2 2222.8,2249.4 2231.9,2249.4 2231.9,2246.5 2240.3,2246.5 2240.3,2241.2 2248.1,2241.2 2248.1,2238.1 2256.7,2238.1 2256.7,2232.8 2267.4,2232.8 2267.4,2227.7 2275.8,2227.7 2275.8,2225.4 2284.3,2225.4 2284.3,2220.7 2293.1,2220.7 2293.1,2215.8 2303.2,2215.8 2303.2,2212.8 2313.5,2212.8 2313.5,2207.9 2325.7,2207.9 2325.7,2207.3 2336.1,2207.3 2336.1,2204.9 2345.5,2204.9 2345.5,2204.1 2355.9,2204.1 2355.9,2201.5 2367.8,2201.5 2367.8,2196.7 2379.7,2196.7 2379.7,2194.2 2390.3,2194.2 2390.3,2192.5 2398.3,2192.5 2398.3,2190.9 2406.5,2190.9 2406.5,2190.0 2417.3,2190.0 2417.3,2190.5 2425.5,2190.5 2425.5,2189.5 2435.7,2189.5 2435.7,2188.5 2444.4,2188.5 2444.4,2188.2 2452.7,2188.2 2452.7,2187.7 2461.5,2187.7 2461.5,2186.8 2471.6,2186.8 2471.6,2186.9 2479.5,2186.9 2479.5,2187.1 2489.4,2187.1 2489.4,2185.8 2496.8,2185.8 2496.8,2185.3 2506.4,2185.3 2506.4,2185.2 2515.9,2185.2 2515.9,2185.2 2525.4,2185.2 2525.4,2184.7 2533.8,2184.7 2533.8,2184.2 2544.0,2184.2 2544.0,2184.5 2552.3,2184.5 2552.3,2184.3 2562.7,2184.3 2562.7,2183.8 2572.2,2183.8 2572.2,2184.3 2580.3,2184.3 2580.3,2183.1 2588.7,2183.1 2588.7,2183.7 2599.7,2183.7 2599.7,2182.7 2608.4,2182.7 2608.4,2183.1 2617.7,2183.1 2617.7,2181.6 2627.0,2181.6 2627.0,2182.5 2635.9,2182.5 2635.9,2181.9 2645.0,2181.9 2645.0,2182.6 2654.3,2182.6 2654.3,2182.3 2662.0,2182.3 2662.0,2180.8 2672.2,2180.8 2672.2,2181.8 2680.9,2181.8 2680.9,2181.8 2691.1,2181.8 2691.1,2180.1 2699.9,2180.1 2699.9,2180.3 2708.1,2180.3 2708.1,2180.0 2718.0,2180.0 2718.0,2180.0 2726.9,2180.0 2726.9,2179.5 2736.7,2179.5 2736.7,2180.2 2746.3,2180.2 2746.3,2180.5 2754.6,2180.5 2754.6,2181.2 2763.2,2181.2 2763.2,2179.8 2773.1,2179.8 2773.1,2179.7 2781.9,2179.7 2781.9,2180.6 2791.7,2180.6 2791.7,2178.6 2801.5,2178.6 2801.5,2178.6 2810.5,2178.6 2810.5,2179.0 2819.8,2179.0 2819.8,2180.4 2829.6,2180.4 2829.6,2178.9 2838.0,2178.9 2838.0,2179.0" fill="none" stroke="#ff3000" stroke-width="11" stroke-linejoin="round" stroke-linecap="round" />
<line x1="2008.5" y1="2126" x2="2082.5" y2="2126" stroke="#6f8a38" stroke-width="11.5" stroke-linecap="round" />
<line x1="2008.5" y1="2177" x2="2082.5" y2="2177" stroke="#ff3000" stroke-width="11.5" stroke-linecap="round" />
<text x="2115.5" y="2143.5" font-size="44" fill="#000" text-anchor="start">APP<tspan font-size="30">wt</tspan></text>
<text x="2115.5" y="2194" font-size="44" fill="#000" text-anchor="start">APP<tspan font-size="30">swe</tspan></text>
<text x="1866" y="2741.5" font-size="42.5" fill="#e535b0">&gt;<tspan dx="8">0.5</tspan><tspan dx="8" font-style="italic">μ</tspan>m/s</text>
<rect x="2523.15" y="2275.15" width="296.2999999999999" height="389.7" fill="#fff" stroke="#000" stroke-width="4.3" />
<path d="M2687.5,2313.0L2687.5,2299.0M2681.4,2309.5L2693.6,2302.5M2681.4,2302.5L2693.6,2309.5" stroke="#000" stroke-width="3" fill="none"/>
<path d="M2702.5,2313.0L2702.5,2299.0M2696.4,2309.5L2708.6,2302.5M2696.4,2302.5L2708.6,2309.5" stroke="#000" stroke-width="3" fill="none"/>
<path d="M2717.5,2313.0L2717.5,2299.0M2711.4,2309.5L2723.6,2302.5M2711.4,2302.5L2723.6,2309.5" stroke="#000" stroke-width="3" fill="none"/>
<line x1="2660" y1="2320" x2="2746" y2="2320" stroke="#555" stroke-width="1.2" stroke-linecap="butt" />
<line x1="2601" y1="2344" x2="2601" y2="2649" stroke="#000" stroke-width="1.5" stroke-linecap="butt" />
<line x1="2596" y1="2394.0" x2="2601" y2="2394.0" stroke="#000" stroke-width="1.5" stroke-linecap="butt" />
<line x1="2596" y1="2491.5" x2="2601" y2="2491.5" stroke="#000" stroke-width="1.5" stroke-linecap="butt" />
<line x1="2596" y1="2589.0" x2="2601" y2="2589.0" stroke="#000" stroke-width="1.5" stroke-linecap="butt" />
<line x1="2596" y1="2637.75" x2="2601" y2="2637.75" stroke="#000" stroke-width="1.5" stroke-linecap="butt" />
<line x1="2597.5" y1="2345.25" x2="2601" y2="2345.25" stroke="#000" stroke-width="1.5" stroke-linecap="butt" />
<line x1="2597.5" y1="2442.75" x2="2601" y2="2442.75" stroke="#000" stroke-width="1.5" stroke-linecap="butt" />
<line x1="2597.5" y1="2540.25" x2="2601" y2="2540.25" stroke="#000" stroke-width="1.5" stroke-linecap="butt" />
<text x="2592" y="2401.7" font-size="22" text-anchor="end" fill="#000" >3</text>
<text x="2592" y="2499.2" font-size="22" text-anchor="end" fill="#000" >2</text>
<text x="2592" y="2596.7" font-size="22" text-anchor="end" fill="#000" >1</text>
<text x="2592" y="2645.45" font-size="22" text-anchor="end" fill="#000" >0.5</text>
<text x="0" y="0" font-size="24.3" text-anchor="middle" fill="#000" transform="translate(2562,2490) rotate(-90)">Velocity (μm/s)</text>
<line x1="2604" y1="2638" x2="2803" y2="2638" stroke="#e535b0" stroke-width="3" stroke-linecap="round" stroke-dasharray="0,6.5"/>
<line x1="2660.0" y1="2401" x2="2660.0" y2="2528" stroke="#000" stroke-width="2.6" stroke-linecap="butt" />
<line x1="2660.0" y1="2619" x2="2660.0" y2="2638" stroke="#000" stroke-width="2.6" stroke-linecap="butt" />
<line x1="2644.5" y1="2401" x2="2675.5" y2="2401" stroke="#000" stroke-width="2.6" stroke-linecap="round" />
<line x1="2644.5" y1="2638" x2="2675.5" y2="2638" stroke="#000" stroke-width="2.6" stroke-linecap="round" />
<rect x="2634.3" y="2529.3" width="51.4" height="88.4" fill="#b8c69c" stroke="#000" stroke-width="2.6" />
<line x1="2634.3" y1="2589" x2="2685.7" y2="2589" stroke="#000" stroke-width="2.6" stroke-linecap="butt" />
<line x1="2746.0" y1="2522" x2="2746.0" y2="2586" stroke="#000" stroke-width="2.6" stroke-linecap="butt" />
<line x1="2746.0" y1="2625" x2="2746.0" y2="2638" stroke="#000" stroke-width="2.6" stroke-linecap="butt" />
<line x1="2731.0" y1="2522" x2="2761.0" y2="2522" stroke="#000" stroke-width="2.6" stroke-linecap="round" />
<line x1="2731.0" y1="2638" x2="2761.0" y2="2638" stroke="#000" stroke-width="2.6" stroke-linecap="round" />
<rect x="2720.3" y="2587.3" width="51.4" height="36.4" fill="#ff9a80" stroke="#000" stroke-width="2.6" />
<line x1="2720.3" y1="2611" x2="2771.7" y2="2611" stroke="#000" stroke-width="2.6" stroke-linecap="butt" />
<circle cx="2746" cy="2378" r="1.9" fill="#fff" stroke="#000" stroke-width="1.1"/>
<circle cx="2746" cy="2382" r="1.9" fill="#fff" stroke="#000" stroke-width="1.1"/>
<circle cx="2746" cy="2442" r="1.9" fill="#fff" stroke="#000" stroke-width="1.1"/>
<circle cx="2746" cy="2446" r="1.9" fill="#fff" stroke="#000" stroke-width="1.1"/>
<circle cx="2746" cy="2483" r="1.9" fill="#fff" stroke="#000" stroke-width="1.1"/>
<circle cx="2746" cy="2491" r="1.9" fill="#fff" stroke="#000" stroke-width="1.1"/>
<circle cx="2746" cy="2500" r="1.9" fill="#fff" stroke="#000" stroke-width="1.1"/>
<circle cx="2746" cy="2508" r="1.9" fill="#fff" stroke="#000" stroke-width="1.1"/>
<circle cx="2746" cy="2512" r="1.9" fill="#fff" stroke="#000" stroke-width="1.1"/>
<line x1="1461.7" y1="2772" x2="2275" y2="2772" stroke="#000" stroke-width="6.5" stroke-linecap="butt" />
<text x="1813" y="2820" font-size="48.5" text-anchor="middle" fill="#000" >Velocity (μm/s)</text>
</svg></body></html>
